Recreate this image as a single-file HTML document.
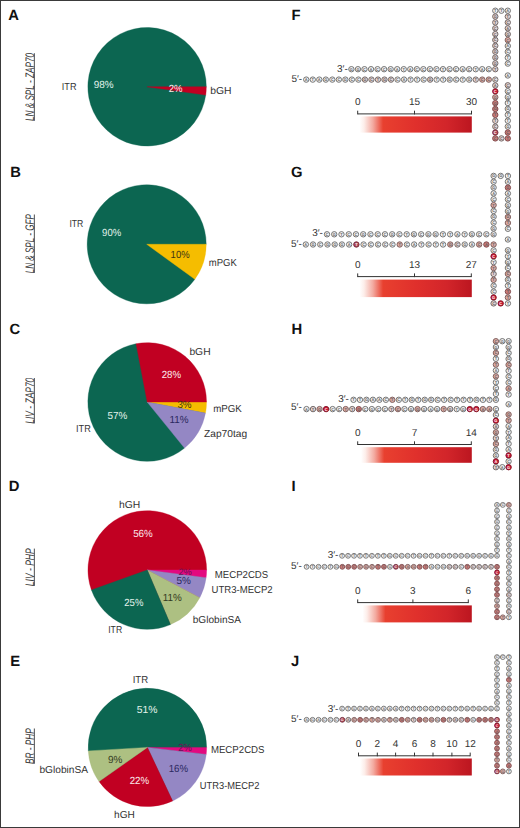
<!DOCTYPE html>
<html><head><meta charset="utf-8"><style>
html,body{margin:0;padding:0;background:#fff;}
body{width:520px;height:828px;overflow:hidden;}
svg{display:block;font-family:"Liberation Sans", sans-serif;text-rendering:geometricPrecision;}
</style></head><body>
<svg width="520" height="828" viewBox="0 0 520 828">
<defs><linearGradient id="grad" x1="0" y1="0" x2="1" y2="0">
<stop offset="0" stop-color="#ffffff"/><stop offset="0.04" stop-color="#fdeeea"/><stop offset="0.12" stop-color="#f3aaa0"/><stop offset="0.21" stop-color="#e8402f"/>
<stop offset="0.5" stop-color="#e0302c"/><stop offset="0.78" stop-color="#d2252a"/><stop offset="1" stop-color="#bc1620"/></linearGradient></defs>
<rect x="0" y="0" width="520" height="828" fill="#fff"/>
<circle cx="147.1" cy="86.8" r="58.6" fill="#0c6651"/>
<path d="M147.10,86.80 L205.72,95.04 A59.199999999999996,59.199999999999996 0 1 1 206.30,86.80 Z" fill="#0c6651" stroke="#0c6651" stroke-width="0.4" stroke-linejoin="round"/>
<path d="M147.10,86.80 L206.30,86.80 A59.199999999999996,59.199999999999996 0 0 1 205.72,95.04 Z" fill="#c10022" stroke="#c10022" stroke-width="0.4" stroke-linejoin="round"/>
<circle cx="146.7" cy="244.3" r="58.900000000000006" fill="#0c6651"/>
<path d="M146.70,244.30 L194.84,279.27 A59.5,59.5 0 1 1 206.20,244.30 Z" fill="#0c6651" stroke="#0c6651" stroke-width="0.4" stroke-linejoin="round"/>
<path d="M146.70,244.30 L206.20,244.30 A59.5,59.5 0 0 1 194.84,279.27 Z" fill="#f5bd00" stroke="#f5bd00" stroke-width="0.4" stroke-linejoin="round"/>
<circle cx="147.2" cy="402" r="58.7" fill="#0c6651"/>
<path d="M147.20,402.00 L184.52,448.08 A59.3,59.3 0 1 1 136.09,343.75 Z" fill="#0c6651" stroke="#0c6651" stroke-width="0.4" stroke-linejoin="round"/>
<path d="M147.20,402.00 L206.50,402.00 A59.3,59.3 0 0 1 205.45,413.11 Z" fill="#f5bd00" stroke="#f5bd00" stroke-width="0.4" stroke-linejoin="round"/>
<path d="M147.20,402.00 L205.45,413.11 A59.3,59.3 0 0 1 184.52,448.08 Z" fill="#9487c4" stroke="#9487c4" stroke-width="0.4" stroke-linejoin="round"/>
<path d="M147.20,402.00 L136.09,343.75 A59.3,59.3 0 0 1 206.50,402.00 Z" fill="#c10022" stroke="#c10022" stroke-width="0.4" stroke-linejoin="round"/>
<circle cx="147.3" cy="570" r="58.7" fill="#c10022"/>
<path d="M147.30,570.00 L91.47,589.99 A59.3,59.3 0 1 1 206.60,570.00 Z" fill="#c10022" stroke="#c10022" stroke-width="0.4" stroke-linejoin="round"/>
<path d="M147.30,570.00 L206.60,570.00 A59.3,59.3 0 0 1 206.09,577.74 Z" fill="#e3097f" stroke="#e3097f" stroke-width="0.4" stroke-linejoin="round"/>
<path d="M147.30,570.00 L206.09,577.74 A59.3,59.3 0 0 1 199.76,597.66 Z" fill="#9487c4" stroke="#9487c4" stroke-width="0.4" stroke-linejoin="round"/>
<path d="M147.30,570.00 L199.76,597.66 A59.3,59.3 0 0 1 170.47,624.59 Z" fill="#adc082" stroke="#adc082" stroke-width="0.4" stroke-linejoin="round"/>
<path d="M147.30,570.00 L170.47,624.59 A59.3,59.3 0 0 1 91.47,589.99 Z" fill="#0c6651" stroke="#0c6651" stroke-width="0.4" stroke-linejoin="round"/>
<circle cx="147.4" cy="747.4" r="58.6" fill="#0c6651"/>
<path d="M147.40,747.40 L88.30,750.91 A59.199999999999996,59.199999999999996 0 1 1 206.60,747.40 Z" fill="#0c6651" stroke="#0c6651" stroke-width="0.4" stroke-linejoin="round"/>
<path d="M147.40,747.40 L206.60,747.40 A59.199999999999996,59.199999999999996 0 0 1 206.18,754.41 Z" fill="#e3097f" stroke="#e3097f" stroke-width="0.4" stroke-linejoin="round"/>
<path d="M147.40,747.40 L206.18,754.41 A59.199999999999996,59.199999999999996 0 0 1 172.61,800.97 Z" fill="#9487c4" stroke="#9487c4" stroke-width="0.4" stroke-linejoin="round"/>
<path d="M147.40,747.40 L172.61,800.97 A59.199999999999996,59.199999999999996 0 0 1 99.03,781.52 Z" fill="#c10022" stroke="#c10022" stroke-width="0.4" stroke-linejoin="round"/>
<path d="M147.40,747.40 L99.03,781.52 A59.199999999999996,59.199999999999996 0 0 1 88.30,750.91 Z" fill="#adc082" stroke="#adc082" stroke-width="0.4" stroke-linejoin="round"/>
<text x="8.3" y="19.6" font-size="14.8" font-weight="bold" fill="#111">A</text>
<text x="10.3" y="177.0" font-size="14.8" font-weight="bold" fill="#111">B</text>
<text x="9.4" y="334.3" font-size="14.8" font-weight="bold" fill="#111">C</text>
<text x="8.8" y="491.0" font-size="14.8" font-weight="bold" fill="#111">D</text>
<text x="10.3" y="666.0" font-size="14.8" font-weight="bold" fill="#111">E</text>
<text x="291.4" y="19.6" font-size="14.8" font-weight="bold" fill="#111">F</text>
<text x="291.1" y="177.2" font-size="14.8" font-weight="bold" fill="#111">G</text>
<text x="291.4" y="334.0" font-size="14.8" font-weight="bold" fill="#111">H</text>
<text x="291.6" y="491.0" font-size="14.8" font-weight="bold" fill="#111">I</text>
<text x="290.9" y="666.1" font-size="14.8" font-weight="bold" fill="#111">J</text>
<text x="61.80" y="89.50" font-size="10.10" fill="#333333" textLength="14.65" lengthAdjust="spacingAndGlyphs">ITR</text>
<text x="93.80" y="87.60" font-size="10.30" fill="#e4f3ec" textLength="19.92" lengthAdjust="spacingAndGlyphs">98%</text>
<text x="168.76" y="92.18" font-size="10.30" fill="#fbe9ec" textLength="13.89" lengthAdjust="spacingAndGlyphs">2%</text>
<text x="210.20" y="94.20" font-size="10.10" fill="#333333" textLength="21.30" lengthAdjust="spacingAndGlyphs">bGH</text>
<text x="69.40" y="227.30" font-size="10.10" fill="#333333" textLength="13.94" lengthAdjust="spacingAndGlyphs">ITR</text>
<text x="102.10" y="236.10" font-size="10.30" fill="#e4f3ec" textLength="19.07" lengthAdjust="spacingAndGlyphs">90%</text>
<text x="170.60" y="257.60" font-size="10.30" fill="#3d3512" textLength="19.04" lengthAdjust="spacingAndGlyphs">10%</text>
<text x="208.80" y="266.20" font-size="10.10" fill="#333333" textLength="27.95" lengthAdjust="spacingAndGlyphs">mPGK</text>
<text x="189.40" y="354.60" font-size="10.10" fill="#333333" textLength="21.20" lengthAdjust="spacingAndGlyphs">bGH</text>
<text x="161.70" y="378.20" font-size="10.30" fill="#fbe9ec" textLength="19.44" lengthAdjust="spacingAndGlyphs">28%</text>
<text x="177.40" y="408.28" font-size="10.30" fill="#3d3512" textLength="14.20" lengthAdjust="spacingAndGlyphs">3%</text>
<text x="213.20" y="411.50" font-size="10.10" fill="#333333" textLength="28.67" lengthAdjust="spacingAndGlyphs">mPGK</text>
<text x="169.50" y="423.40" font-size="10.30" fill="#2b2860" textLength="19.15" lengthAdjust="spacingAndGlyphs">11%</text>
<text x="204.00" y="437.30" font-size="10.10" fill="#333333" textLength="43.15" lengthAdjust="spacingAndGlyphs">Zap70tag</text>
<text x="107.40" y="419.30" font-size="10.30" fill="#e4f3ec" textLength="19.86" lengthAdjust="spacingAndGlyphs">57%</text>
<text x="76.00" y="432.00" font-size="10.10" fill="#333333" textLength="14.74" lengthAdjust="spacingAndGlyphs">ITR</text>
<text x="119.00" y="507.60" font-size="10.10" fill="#333333" textLength="21.27" lengthAdjust="spacingAndGlyphs">hGH</text>
<text x="133.20" y="537.00" font-size="10.30" fill="#fbe9ec" textLength="19.56" lengthAdjust="spacingAndGlyphs">56%</text>
<text x="178.40" y="574.60" font-size="9.20" fill="#6b1456" textLength="13.40" lengthAdjust="spacingAndGlyphs">2%</text>
<text x="214.86" y="577.64" font-size="10.10" fill="#333333" textLength="53.34" lengthAdjust="spacingAndGlyphs">MECP2CDS</text>
<text x="176.50" y="584.00" font-size="10.30" fill="#2b2860" textLength="14.44" lengthAdjust="spacingAndGlyphs">5%</text>
<text x="211.50" y="593.10" font-size="10.10" fill="#333333" textLength="61.13" lengthAdjust="spacingAndGlyphs">UTR3-MECP2</text>
<text x="162.80" y="601.00" font-size="10.30" fill="#333a1e" textLength="19.06" lengthAdjust="spacingAndGlyphs">11%</text>
<text x="124.30" y="606.20" font-size="10.30" fill="#e4f3ec" textLength="19.12" lengthAdjust="spacingAndGlyphs">25%</text>
<text x="192.76" y="622.64" font-size="10.10" fill="#333333" textLength="48.25" lengthAdjust="spacingAndGlyphs">bGlobinSA</text>
<text x="108.20" y="633.40" font-size="10.10" fill="#333333" textLength="13.94" lengthAdjust="spacingAndGlyphs">ITR</text>
<text x="132.70" y="682.50" font-size="10.10" fill="#333333" textLength="15.49" lengthAdjust="spacingAndGlyphs">ITR</text>
<text x="136.70" y="713.00" font-size="10.30" fill="#e4f3ec" textLength="20.74" lengthAdjust="spacingAndGlyphs">51%</text>
<text x="178.30" y="751.20" font-size="10.30" fill="#6b1456" textLength="13.53" lengthAdjust="spacingAndGlyphs">2%</text>
<text x="210.90" y="753.10" font-size="10.10" fill="#333333" textLength="53.63" lengthAdjust="spacingAndGlyphs">MECP2CDS</text>
<text x="107.90" y="762.70" font-size="10.30" fill="#333a1e" textLength="14.46" lengthAdjust="spacingAndGlyphs">9%</text>
<text x="168.70" y="771.50" font-size="10.30" fill="#2b2860" textLength="19.43" lengthAdjust="spacingAndGlyphs">16%</text>
<text x="39.40" y="772.64" font-size="10.10" fill="#333333" textLength="48.68" lengthAdjust="spacingAndGlyphs">bGlobinSA</text>
<text x="129.66" y="784.36" font-size="10.30" fill="#fbe9ec" textLength="19.50" lengthAdjust="spacingAndGlyphs">22%</text>
<text x="199.86" y="788.64" font-size="10.10" fill="#333333" textLength="59.50" lengthAdjust="spacingAndGlyphs">UTR3-MECP2</text>
<text x="114.12" y="817.54" font-size="10.10" fill="#333333" textLength="20.75" lengthAdjust="spacingAndGlyphs">hGH</text>
<text transform="translate(33.5,121.1) rotate(-90)" font-size="12.4" font-style="italic" fill="#3a3a3a" textLength="68.2" lengthAdjust="spacingAndGlyphs">LN &amp; SPL - ZAP70</text>
<rect x="33.85" y="53.2" width="0.9" height="67.6" fill="#3a3a3a"/>
<text transform="translate(33.5,273.2) rotate(-90)" font-size="12.4" font-style="italic" fill="#3a3a3a" textLength="59.0" lengthAdjust="spacingAndGlyphs">LN &amp; SPL - GFP</text>
<rect x="33.85" y="214.5" width="0.9" height="58.4" fill="#3a3a3a"/>
<text transform="translate(33.5,423.7) rotate(-90)" font-size="12.4" font-style="italic" fill="#3a3a3a" textLength="46.0" lengthAdjust="spacingAndGlyphs">LIV - ZAP70</text>
<rect x="33.85" y="378.0" width="0.9" height="45.4" fill="#3a3a3a"/>
<text transform="translate(33.5,586.2) rotate(-90)" font-size="12.4" font-style="italic" fill="#3a3a3a" textLength="37.9" lengthAdjust="spacingAndGlyphs">LIV - PHP</text>
<rect x="33.85" y="548.6" width="0.9" height="37.3" fill="#3a3a3a"/>
<text transform="translate(33.5,764.0) rotate(-90)" font-size="12.4" font-style="italic" fill="#3a3a3a" textLength="35.8" lengthAdjust="spacingAndGlyphs">BR - PHP</text>
<rect x="33.85" y="728.5" width="0.9" height="35.2" fill="#3a3a3a"/>
<circle cx="351.40" cy="69.20" r="2.7" fill="#f2f2f2" stroke="#6e6e6e" stroke-width="0.95"/>
<text x="351.40" y="70.64" font-size="4.0" font-weight="bold" fill="#5c5c5c" text-anchor="middle">G</text>
<circle cx="357.94" cy="69.20" r="2.7" fill="#f2f2f2" stroke="#6e6e6e" stroke-width="0.95"/>
<text x="357.94" y="70.64" font-size="4.0" font-weight="bold" fill="#5c5c5c" text-anchor="middle">G</text>
<circle cx="364.48" cy="69.20" r="2.7" fill="#f2f2f2" stroke="#6e6e6e" stroke-width="0.95"/>
<text x="364.48" y="70.64" font-size="4.0" font-weight="bold" fill="#5c5c5c" text-anchor="middle">C</text>
<circle cx="371.02" cy="69.20" r="2.7" fill="#f2f2f2" stroke="#6e6e6e" stroke-width="0.95"/>
<text x="371.02" y="70.64" font-size="4.0" font-weight="bold" fill="#5c5c5c" text-anchor="middle">A</text>
<circle cx="377.56" cy="69.20" r="2.7" fill="#f2f2f2" stroke="#6e6e6e" stroke-width="0.95"/>
<text x="377.56" y="70.64" font-size="4.0" font-weight="bold" fill="#5c5c5c" text-anchor="middle">C</text>
<circle cx="384.10" cy="69.20" r="2.7" fill="#f2f2f2" stroke="#6e6e6e" stroke-width="0.95"/>
<text x="384.10" y="70.64" font-size="4.0" font-weight="bold" fill="#5c5c5c" text-anchor="middle">C</text>
<circle cx="390.65" cy="69.20" r="2.7" fill="#f2f2f2" stroke="#6e6e6e" stroke-width="0.95"/>
<text x="390.65" y="70.64" font-size="4.0" font-weight="bold" fill="#5c5c5c" text-anchor="middle">G</text>
<circle cx="397.19" cy="69.20" r="2.7" fill="#f2f2f2" stroke="#6e6e6e" stroke-width="0.95"/>
<text x="397.19" y="70.64" font-size="4.0" font-weight="bold" fill="#5c5c5c" text-anchor="middle">A</text>
<circle cx="403.73" cy="69.20" r="2.7" fill="#f2f2f2" stroke="#6e6e6e" stroke-width="0.95"/>
<text x="403.73" y="70.64" font-size="4.0" font-weight="bold" fill="#5c5c5c" text-anchor="middle">T</text>
<circle cx="410.27" cy="69.20" r="2.7" fill="#f2f2f2" stroke="#6e6e6e" stroke-width="0.95"/>
<text x="410.27" y="70.64" font-size="4.0" font-weight="bold" fill="#5c5c5c" text-anchor="middle">A</text>
<circle cx="416.81" cy="69.20" r="2.7" fill="#f2f2f2" stroke="#6e6e6e" stroke-width="0.95"/>
<text x="416.81" y="70.64" font-size="4.0" font-weight="bold" fill="#5c5c5c" text-anchor="middle">C</text>
<circle cx="423.35" cy="69.20" r="2.7" fill="#f2f2f2" stroke="#6e6e6e" stroke-width="0.95"/>
<text x="423.35" y="70.64" font-size="4.0" font-weight="bold" fill="#5c5c5c" text-anchor="middle">C</text>
<circle cx="429.89" cy="69.20" r="2.7" fill="#f2f2f2" stroke="#6e6e6e" stroke-width="0.95"/>
<text x="429.89" y="70.64" font-size="4.0" font-weight="bold" fill="#5c5c5c" text-anchor="middle">C</text>
<circle cx="436.43" cy="69.20" r="2.7" fill="#f2f2f2" stroke="#6e6e6e" stroke-width="0.95"/>
<text x="436.43" y="70.64" font-size="4.0" font-weight="bold" fill="#5c5c5c" text-anchor="middle">C</text>
<circle cx="442.97" cy="69.20" r="2.7" fill="#f2f2f2" stroke="#6e6e6e" stroke-width="0.95"/>
<text x="442.97" y="70.64" font-size="4.0" font-weight="bold" fill="#5c5c5c" text-anchor="middle">T</text>
<circle cx="449.51" cy="69.20" r="2.7" fill="#f2f2f2" stroke="#6e6e6e" stroke-width="0.95"/>
<text x="449.51" y="70.64" font-size="4.0" font-weight="bold" fill="#5c5c5c" text-anchor="middle">C</text>
<circle cx="456.05" cy="69.20" r="2.7" fill="#f2f2f2" stroke="#6e6e6e" stroke-width="0.95"/>
<text x="456.05" y="70.64" font-size="4.0" font-weight="bold" fill="#5c5c5c" text-anchor="middle">C</text>
<circle cx="462.60" cy="69.20" r="2.7" fill="#f2f2f2" stroke="#6e6e6e" stroke-width="0.95"/>
<text x="462.60" y="70.64" font-size="4.0" font-weight="bold" fill="#5c5c5c" text-anchor="middle">A</text>
<circle cx="469.14" cy="69.20" r="2.7" fill="#f2f2f2" stroke="#6e6e6e" stroke-width="0.95"/>
<text x="469.14" y="70.64" font-size="4.0" font-weight="bold" fill="#5c5c5c" text-anchor="middle">C</text>
<circle cx="475.68" cy="69.20" r="2.7" fill="#f2f2f2" stroke="#6e6e6e" stroke-width="0.95"/>
<text x="475.68" y="70.64" font-size="4.0" font-weight="bold" fill="#5c5c5c" text-anchor="middle">T</text>
<circle cx="482.22" cy="69.20" r="2.7" fill="#f2f2f2" stroke="#6e6e6e" stroke-width="0.95"/>
<text x="482.22" y="70.64" font-size="4.0" font-weight="bold" fill="#5c5c5c" text-anchor="middle">A</text>
<circle cx="488.76" cy="69.20" r="2.7" fill="#f2f2f2" stroke="#6e6e6e" stroke-width="0.95"/>
<text x="488.76" y="70.64" font-size="4.0" font-weight="bold" fill="#5c5c5c" text-anchor="middle">C</text>
<circle cx="306.25" cy="79.60" r="2.7" fill="#f2f2f2" stroke="#6e6e6e" stroke-width="0.95"/>
<text x="306.25" y="81.04" font-size="4.0" font-weight="bold" fill="#5c5c5c" text-anchor="middle">A</text>
<circle cx="312.77" cy="79.60" r="2.7" fill="#f2f2f2" stroke="#6e6e6e" stroke-width="0.95"/>
<text x="312.77" y="81.04" font-size="4.0" font-weight="bold" fill="#5c5c5c" text-anchor="middle">T</text>
<circle cx="319.29" cy="79.60" r="2.7" fill="#f2f2f2" stroke="#6e6e6e" stroke-width="0.95"/>
<text x="319.29" y="81.04" font-size="4.0" font-weight="bold" fill="#5c5c5c" text-anchor="middle">A</text>
<circle cx="325.81" cy="79.60" r="2.7" fill="#f2f2f2" stroke="#6e6e6e" stroke-width="0.95"/>
<text x="325.81" y="81.04" font-size="4.0" font-weight="bold" fill="#5c5c5c" text-anchor="middle">G</text>
<circle cx="332.33" cy="79.60" r="2.7" fill="#f2f2f2" stroke="#6e6e6e" stroke-width="0.95"/>
<text x="332.33" y="81.04" font-size="4.0" font-weight="bold" fill="#5c5c5c" text-anchor="middle">C</text>
<circle cx="338.84" cy="79.60" r="2.7" fill="#f2f2f2" stroke="#6e6e6e" stroke-width="0.95"/>
<text x="338.84" y="81.04" font-size="4.0" font-weight="bold" fill="#5c5c5c" text-anchor="middle">C</text>
<circle cx="345.36" cy="79.60" r="2.7" fill="#f2f2f2" stroke="#6e6e6e" stroke-width="0.95"/>
<text x="345.36" y="81.04" font-size="4.0" font-weight="bold" fill="#5c5c5c" text-anchor="middle">G</text>
<circle cx="351.88" cy="79.60" r="2.7" fill="#f2f2f2" stroke="#6e6e6e" stroke-width="0.95"/>
<text x="351.88" y="81.04" font-size="4.0" font-weight="bold" fill="#5c5c5c" text-anchor="middle">C</text>
<circle cx="358.40" cy="79.60" r="2.7" fill="#f2f2f2" stroke="#6e6e6e" stroke-width="0.95"/>
<text x="358.40" y="81.04" font-size="4.0" font-weight="bold" fill="#5c5c5c" text-anchor="middle">C</text>
<circle cx="364.92" cy="79.60" r="2.7" fill="#e6d6d4" stroke="#6c6262" stroke-width="0.95"/>
<text x="364.92" y="81.04" font-size="4.0" font-weight="bold" fill="#5c5c5c" text-anchor="middle">G</text>
<circle cx="371.44" cy="79.60" r="2.7" fill="#e6d6d4" stroke="#6c6262" stroke-width="0.95"/>
<text x="371.44" y="81.04" font-size="4.0" font-weight="bold" fill="#5c5c5c" text-anchor="middle">C</text>
<circle cx="377.96" cy="79.60" r="2.7" fill="#e6d6d4" stroke="#6c6262" stroke-width="0.95"/>
<text x="377.96" y="81.04" font-size="4.0" font-weight="bold" fill="#5c5c5c" text-anchor="middle">T</text>
<circle cx="384.48" cy="79.60" r="2.7" fill="#e6d6d4" stroke="#6c6262" stroke-width="0.95"/>
<text x="384.48" y="81.04" font-size="4.0" font-weight="bold" fill="#5c5c5c" text-anchor="middle">G</text>
<circle cx="391.00" cy="79.60" r="2.7" fill="#e6d6d4" stroke="#6c6262" stroke-width="0.95"/>
<text x="391.00" y="81.04" font-size="4.0" font-weight="bold" fill="#5c5c5c" text-anchor="middle">C</text>
<circle cx="397.52" cy="79.60" r="2.7" fill="#f2f2f2" stroke="#6e6e6e" stroke-width="0.95"/>
<text x="397.52" y="81.04" font-size="4.0" font-weight="bold" fill="#5c5c5c" text-anchor="middle">C</text>
<circle cx="404.03" cy="79.60" r="2.7" fill="#f2f2f2" stroke="#6e6e6e" stroke-width="0.95"/>
<text x="404.03" y="81.04" font-size="4.0" font-weight="bold" fill="#5c5c5c" text-anchor="middle">A</text>
<circle cx="410.55" cy="79.60" r="2.7" fill="#f2f2f2" stroke="#6e6e6e" stroke-width="0.95"/>
<text x="410.55" y="81.04" font-size="4.0" font-weight="bold" fill="#5c5c5c" text-anchor="middle">T</text>
<circle cx="417.07" cy="79.60" r="2.7" fill="#f2f2f2" stroke="#6e6e6e" stroke-width="0.95"/>
<text x="417.07" y="81.04" font-size="4.0" font-weight="bold" fill="#5c5c5c" text-anchor="middle">T</text>
<circle cx="423.59" cy="79.60" r="2.7" fill="#f2f2f2" stroke="#6e6e6e" stroke-width="0.95"/>
<text x="423.59" y="81.04" font-size="4.0" font-weight="bold" fill="#5c5c5c" text-anchor="middle">C</text>
<circle cx="430.11" cy="79.60" r="2.7" fill="#e6d6d4" stroke="#6c6262" stroke-width="0.95"/>
<text x="430.11" y="81.04" font-size="4.0" font-weight="bold" fill="#5c5c5c" text-anchor="middle">G</text>
<circle cx="436.63" cy="79.60" r="2.7" fill="#f2f2f2" stroke="#6e6e6e" stroke-width="0.95"/>
<text x="436.63" y="81.04" font-size="4.0" font-weight="bold" fill="#5c5c5c" text-anchor="middle">T</text>
<circle cx="443.15" cy="79.60" r="2.7" fill="#f2f2f2" stroke="#6e6e6e" stroke-width="0.95"/>
<text x="443.15" y="81.04" font-size="4.0" font-weight="bold" fill="#5c5c5c" text-anchor="middle">T</text>
<circle cx="449.67" cy="79.60" r="2.7" fill="#f2f2f2" stroke="#6e6e6e" stroke-width="0.95"/>
<text x="449.67" y="81.04" font-size="4.0" font-weight="bold" fill="#5c5c5c" text-anchor="middle">G</text>
<circle cx="456.19" cy="79.60" r="2.7" fill="#f2f2f2" stroke="#6e6e6e" stroke-width="0.95"/>
<text x="456.19" y="81.04" font-size="4.0" font-weight="bold" fill="#5c5c5c" text-anchor="middle">C</text>
<circle cx="462.71" cy="79.60" r="2.7" fill="#f2f2f2" stroke="#6e6e6e" stroke-width="0.95"/>
<text x="462.71" y="81.04" font-size="4.0" font-weight="bold" fill="#5c5c5c" text-anchor="middle">T</text>
<circle cx="469.22" cy="79.60" r="2.7" fill="#f2f2f2" stroke="#6e6e6e" stroke-width="0.95"/>
<text x="469.22" y="81.04" font-size="4.0" font-weight="bold" fill="#5c5c5c" text-anchor="middle">G</text>
<circle cx="475.74" cy="79.60" r="2.7" fill="#e6d6d4" stroke="#6c6262" stroke-width="0.95"/>
<text x="475.74" y="81.04" font-size="4.0" font-weight="bold" fill="#5c5c5c" text-anchor="middle">T</text>
<circle cx="482.26" cy="79.60" r="2.7" fill="#dcaca6" stroke="#7a5c5a" stroke-width="0.95"/>
<text x="482.26" y="81.04" font-size="4.0" font-weight="bold" fill="#5c5c5c" text-anchor="middle">C</text>
<circle cx="488.78" cy="79.60" r="2.7" fill="#dcaca6" stroke="#7a5c5a" stroke-width="0.95"/>
<text x="488.78" y="81.04" font-size="4.0" font-weight="bold" fill="#5c5c5c" text-anchor="middle">C</text>
<circle cx="495.30" cy="10.70" r="2.7" fill="#f2f2f2" stroke="#6e6e6e" stroke-width="0.95"/>
<text x="495.30" y="12.14" font-size="4.0" font-weight="bold" fill="#5c5c5c" text-anchor="middle">T</text>
<circle cx="495.30" cy="16.55" r="2.7" fill="#e6d6d4" stroke="#6c6262" stroke-width="0.95"/>
<text x="495.30" y="17.99" font-size="4.0" font-weight="bold" fill="#5c5c5c" text-anchor="middle">G</text>
<circle cx="495.30" cy="22.40" r="2.7" fill="#e6d6d4" stroke="#6c6262" stroke-width="0.95"/>
<text x="495.30" y="23.84" font-size="4.0" font-weight="bold" fill="#5c5c5c" text-anchor="middle">T</text>
<circle cx="495.30" cy="28.25" r="2.7" fill="#e6d6d4" stroke="#6c6262" stroke-width="0.95"/>
<text x="495.30" y="29.69" font-size="4.0" font-weight="bold" fill="#5c5c5c" text-anchor="middle">C</text>
<circle cx="495.30" cy="34.10" r="2.7" fill="#e6d6d4" stroke="#6c6262" stroke-width="0.95"/>
<text x="495.30" y="35.54" font-size="4.0" font-weight="bold" fill="#5c5c5c" text-anchor="middle">C</text>
<circle cx="495.30" cy="39.95" r="2.7" fill="#e6d6d4" stroke="#6c6262" stroke-width="0.95"/>
<text x="495.30" y="41.39" font-size="4.0" font-weight="bold" fill="#5c5c5c" text-anchor="middle">C</text>
<circle cx="495.30" cy="45.80" r="2.7" fill="#e6d6d4" stroke="#6c6262" stroke-width="0.95"/>
<text x="495.30" y="47.24" font-size="4.0" font-weight="bold" fill="#5c5c5c" text-anchor="middle">C</text>
<circle cx="495.30" cy="51.65" r="2.7" fill="#e6d6d4" stroke="#6c6262" stroke-width="0.95"/>
<text x="495.30" y="53.09" font-size="4.0" font-weight="bold" fill="#5c5c5c" text-anchor="middle">G</text>
<circle cx="495.30" cy="57.50" r="2.7" fill="#e6d6d4" stroke="#6c6262" stroke-width="0.95"/>
<text x="495.30" y="58.94" font-size="4.0" font-weight="bold" fill="#5c5c5c" text-anchor="middle">G</text>
<circle cx="495.30" cy="63.35" r="2.7" fill="#e6d6d4" stroke="#6c6262" stroke-width="0.95"/>
<text x="495.30" y="64.79" font-size="4.0" font-weight="bold" fill="#5c5c5c" text-anchor="middle">G</text>
<circle cx="495.30" cy="69.20" r="2.7" fill="#e6d6d4" stroke="#6c6262" stroke-width="0.95"/>
<text x="495.30" y="70.64" font-size="4.0" font-weight="bold" fill="#5c5c5c" text-anchor="middle">T</text>
<circle cx="495.30" cy="79.60" r="2.7" fill="#eae2e0" stroke="#6c6666" stroke-width="0.95"/>
<text x="495.30" y="81.04" font-size="4.0" font-weight="bold" fill="#5c5c5c" text-anchor="middle">C</text>
<circle cx="495.30" cy="85.48" r="2.7" fill="#e6d6d4" stroke="#6c6262" stroke-width="0.95"/>
<text x="495.30" y="86.92" font-size="4.0" font-weight="bold" fill="#5c5c5c" text-anchor="middle">A</text>
<circle cx="495.30" cy="91.36" r="2.7" fill="#cc1834" stroke="#801426" stroke-width="0.95"/>
<text x="495.30" y="92.80" font-size="4.0" font-weight="bold" fill="#ffffff" text-anchor="middle">C</text>
<circle cx="495.30" cy="97.24" r="2.7" fill="#dcaca6" stroke="#7a5c5a" stroke-width="0.95"/>
<text x="495.30" y="98.68" font-size="4.0" font-weight="bold" fill="#5c5c5c" text-anchor="middle">G</text>
<circle cx="495.30" cy="103.12" r="2.7" fill="#cc7c7a" stroke="#7c4a4c" stroke-width="0.95"/>
<text x="495.30" y="104.56" font-size="4.0" font-weight="bold" fill="#5c5c5c" text-anchor="middle">G</text>
<circle cx="495.30" cy="109.00" r="2.7" fill="#cc7c7a" stroke="#7c4a4c" stroke-width="0.95"/>
<text x="495.30" y="110.44" font-size="4.0" font-weight="bold" fill="#5c5c5c" text-anchor="middle">G</text>
<circle cx="495.30" cy="114.88" r="2.7" fill="#cc7c7a" stroke="#7c4a4c" stroke-width="0.95"/>
<text x="495.30" y="116.32" font-size="4.0" font-weight="bold" fill="#5c5c5c" text-anchor="middle">T</text>
<circle cx="495.30" cy="120.76" r="2.7" fill="#e6d6d4" stroke="#6c6262" stroke-width="0.95"/>
<text x="495.30" y="122.20" font-size="4.0" font-weight="bold" fill="#5c5c5c" text-anchor="middle">T</text>
<circle cx="495.30" cy="126.64" r="2.7" fill="#e6d6d4" stroke="#6c6262" stroke-width="0.95"/>
<text x="495.30" y="128.08" font-size="4.0" font-weight="bold" fill="#5c5c5c" text-anchor="middle">C</text>
<circle cx="495.30" cy="132.52" r="2.7" fill="#b4485a" stroke="#702a3a" stroke-width="0.95"/>
<text x="495.30" y="133.96" font-size="4.0" font-weight="bold" fill="#ffffff" text-anchor="middle">C</text>
<circle cx="495.30" cy="138.40" r="2.7" fill="#cc7c7a" stroke="#7c4a4c" stroke-width="0.95"/>
<text x="495.30" y="139.84" font-size="4.0" font-weight="bold" fill="#5c5c5c" text-anchor="middle">C</text>
<circle cx="501.40" cy="10.70" r="2.7" fill="#f2f2f2" stroke="#6e6e6e" stroke-width="0.95"/>
<text x="501.40" y="12.14" font-size="4.0" font-weight="bold" fill="#5c5c5c" text-anchor="middle">T</text>
<circle cx="501.40" cy="138.40" r="2.7" fill="#e6d6d4" stroke="#6c6262" stroke-width="0.95"/>
<text x="501.40" y="139.84" font-size="4.0" font-weight="bold" fill="#5c5c5c" text-anchor="middle">C</text>
<circle cx="507.80" cy="10.70" r="2.7" fill="#f2f2f2" stroke="#6e6e6e" stroke-width="0.95"/>
<text x="507.80" y="12.14" font-size="4.0" font-weight="bold" fill="#5c5c5c" text-anchor="middle">A</text>
<circle cx="507.80" cy="85.30" r="2.7" fill="#e6d6d4" stroke="#6c6262" stroke-width="0.95"/>
<text x="507.80" y="86.74" font-size="4.0" font-weight="bold" fill="#5c5c5c" text-anchor="middle">C</text>
<circle cx="507.80" cy="16.58" r="2.7" fill="#e6d6d4" stroke="#6c6262" stroke-width="0.95"/>
<text x="507.80" y="18.02" font-size="4.0" font-weight="bold" fill="#5c5c5c" text-anchor="middle">T</text>
<circle cx="507.80" cy="91.20" r="2.7" fill="#f2f2f2" stroke="#6e6e6e" stroke-width="0.95"/>
<text x="507.80" y="92.64" font-size="4.0" font-weight="bold" fill="#5c5c5c" text-anchor="middle">C</text>
<circle cx="507.80" cy="22.46" r="2.7" fill="#e6d6d4" stroke="#6c6262" stroke-width="0.95"/>
<text x="507.80" y="23.90" font-size="4.0" font-weight="bold" fill="#5c5c5c" text-anchor="middle">C</text>
<circle cx="507.80" cy="97.10" r="2.7" fill="#f2f2f2" stroke="#6e6e6e" stroke-width="0.95"/>
<text x="507.80" y="98.54" font-size="4.0" font-weight="bold" fill="#5c5c5c" text-anchor="middle">G</text>
<circle cx="507.80" cy="28.33" r="2.7" fill="#e6d6d4" stroke="#6c6262" stroke-width="0.95"/>
<text x="507.80" y="29.77" font-size="4.0" font-weight="bold" fill="#5c5c5c" text-anchor="middle">A</text>
<circle cx="507.80" cy="103.00" r="2.7" fill="#f2f2f2" stroke="#6e6e6e" stroke-width="0.95"/>
<text x="507.80" y="104.44" font-size="4.0" font-weight="bold" fill="#5c5c5c" text-anchor="middle">T</text>
<circle cx="507.80" cy="34.21" r="2.7" fill="#e6d6d4" stroke="#6c6262" stroke-width="0.95"/>
<text x="507.80" y="35.65" font-size="4.0" font-weight="bold" fill="#5c5c5c" text-anchor="middle">G</text>
<circle cx="507.80" cy="108.90" r="2.7" fill="#f2f2f2" stroke="#6e6e6e" stroke-width="0.95"/>
<text x="507.80" y="110.34" font-size="4.0" font-weight="bold" fill="#5c5c5c" text-anchor="middle">G</text>
<circle cx="507.80" cy="40.09" r="2.7" fill="#dcaca6" stroke="#7a5c5a" stroke-width="0.95"/>
<text x="507.80" y="41.53" font-size="4.0" font-weight="bold" fill="#5c5c5c" text-anchor="middle">C</text>
<circle cx="507.80" cy="114.80" r="2.7" fill="#f2f2f2" stroke="#6e6e6e" stroke-width="0.95"/>
<text x="507.80" y="116.24" font-size="4.0" font-weight="bold" fill="#5c5c5c" text-anchor="middle">T</text>
<circle cx="507.80" cy="45.97" r="2.7" fill="#f2f2f2" stroke="#6e6e6e" stroke-width="0.95"/>
<text x="507.80" y="47.41" font-size="4.0" font-weight="bold" fill="#5c5c5c" text-anchor="middle">A</text>
<circle cx="507.80" cy="120.70" r="2.7" fill="#f2f2f2" stroke="#6e6e6e" stroke-width="0.95"/>
<text x="507.80" y="122.14" font-size="4.0" font-weight="bold" fill="#5c5c5c" text-anchor="middle">T</text>
<circle cx="507.80" cy="51.84" r="2.7" fill="#f2f2f2" stroke="#6e6e6e" stroke-width="0.95"/>
<text x="507.80" y="53.28" font-size="4.0" font-weight="bold" fill="#5c5c5c" text-anchor="middle">C</text>
<circle cx="507.80" cy="126.60" r="2.7" fill="#f2f2f2" stroke="#6e6e6e" stroke-width="0.95"/>
<text x="507.80" y="128.04" font-size="4.0" font-weight="bold" fill="#5c5c5c" text-anchor="middle">G</text>
<circle cx="507.80" cy="57.72" r="2.7" fill="#f2f2f2" stroke="#6e6e6e" stroke-width="0.95"/>
<text x="507.80" y="59.16" font-size="4.0" font-weight="bold" fill="#5c5c5c" text-anchor="middle">T</text>
<circle cx="507.80" cy="132.50" r="2.7" fill="#cc7c7a" stroke="#7c4a4c" stroke-width="0.95"/>
<text x="507.80" y="133.94" font-size="4.0" font-weight="bold" fill="#5c5c5c" text-anchor="middle">C</text>
<circle cx="507.80" cy="63.60" r="2.7" fill="#f2f2f2" stroke="#6e6e6e" stroke-width="0.95"/>
<text x="507.80" y="65.04" font-size="4.0" font-weight="bold" fill="#5c5c5c" text-anchor="middle">C</text>
<circle cx="507.80" cy="138.40" r="2.7" fill="#cc7c7a" stroke="#7c4a4c" stroke-width="0.95"/>
<text x="507.80" y="139.84" font-size="4.0" font-weight="bold" fill="#5c5c5c" text-anchor="middle">T</text>
<circle cx="507.80" cy="75.50" r="2.7" fill="#f2f2f2" stroke="#6e6e6e" stroke-width="0.95"/>
<text x="507.80" y="76.94" font-size="4.0" font-weight="bold" fill="#5c5c5c" text-anchor="middle">A</text>
<text x="337.0" y="72.1" font-size="10" fill="#333">3′-</text>
<text x="291.4" y="82.2" font-size="10" fill="#333">5′-</text>
<circle cx="327.00" cy="234.30" r="2.7" fill="#f2f2f2" stroke="#6e6e6e" stroke-width="0.95"/>
<text x="327.00" y="235.74" font-size="4.0" font-weight="bold" fill="#5c5c5c" text-anchor="middle">C</text>
<circle cx="334.24" cy="234.30" r="2.7" fill="#f2f2f2" stroke="#6e6e6e" stroke-width="0.95"/>
<text x="334.24" y="235.74" font-size="4.0" font-weight="bold" fill="#5c5c5c" text-anchor="middle">G</text>
<circle cx="341.49" cy="234.30" r="2.7" fill="#f2f2f2" stroke="#6e6e6e" stroke-width="0.95"/>
<text x="341.49" y="235.74" font-size="4.0" font-weight="bold" fill="#5c5c5c" text-anchor="middle">T</text>
<circle cx="348.73" cy="234.30" r="2.7" fill="#f2f2f2" stroke="#6e6e6e" stroke-width="0.95"/>
<text x="348.73" y="235.74" font-size="4.0" font-weight="bold" fill="#5c5c5c" text-anchor="middle">C</text>
<circle cx="355.97" cy="234.30" r="2.7" fill="#f2f2f2" stroke="#6e6e6e" stroke-width="0.95"/>
<text x="355.97" y="235.74" font-size="4.0" font-weight="bold" fill="#5c5c5c" text-anchor="middle">C</text>
<circle cx="363.22" cy="234.30" r="2.7" fill="#f2f2f2" stroke="#6e6e6e" stroke-width="0.95"/>
<text x="363.22" y="235.74" font-size="4.0" font-weight="bold" fill="#5c5c5c" text-anchor="middle">G</text>
<circle cx="370.46" cy="234.30" r="2.7" fill="#f2f2f2" stroke="#6e6e6e" stroke-width="0.95"/>
<text x="370.46" y="235.74" font-size="4.0" font-weight="bold" fill="#5c5c5c" text-anchor="middle">C</text>
<circle cx="377.70" cy="234.30" r="2.7" fill="#f2f2f2" stroke="#6e6e6e" stroke-width="0.95"/>
<text x="377.70" y="235.74" font-size="4.0" font-weight="bold" fill="#5c5c5c" text-anchor="middle">C</text>
<circle cx="384.95" cy="234.30" r="2.7" fill="#f2f2f2" stroke="#6e6e6e" stroke-width="0.95"/>
<text x="384.95" y="235.74" font-size="4.0" font-weight="bold" fill="#5c5c5c" text-anchor="middle">C</text>
<circle cx="392.19" cy="234.30" r="2.7" fill="#f2f2f2" stroke="#6e6e6e" stroke-width="0.95"/>
<text x="392.19" y="235.74" font-size="4.0" font-weight="bold" fill="#5c5c5c" text-anchor="middle">G</text>
<circle cx="399.43" cy="234.30" r="2.7" fill="#f2f2f2" stroke="#6e6e6e" stroke-width="0.95"/>
<text x="399.43" y="235.74" font-size="4.0" font-weight="bold" fill="#5c5c5c" text-anchor="middle">C</text>
<circle cx="406.68" cy="234.30" r="2.7" fill="#f2f2f2" stroke="#6e6e6e" stroke-width="0.95"/>
<text x="406.68" y="235.74" font-size="4.0" font-weight="bold" fill="#5c5c5c" text-anchor="middle">T</text>
<circle cx="413.92" cy="234.30" r="2.7" fill="#f2f2f2" stroke="#6e6e6e" stroke-width="0.95"/>
<text x="413.92" y="235.74" font-size="4.0" font-weight="bold" fill="#5c5c5c" text-anchor="middle">G</text>
<circle cx="421.17" cy="234.30" r="2.7" fill="#f2f2f2" stroke="#6e6e6e" stroke-width="0.95"/>
<text x="421.17" y="235.74" font-size="4.0" font-weight="bold" fill="#5c5c5c" text-anchor="middle">C</text>
<circle cx="428.41" cy="234.30" r="2.7" fill="#f2f2f2" stroke="#6e6e6e" stroke-width="0.95"/>
<text x="428.41" y="235.74" font-size="4.0" font-weight="bold" fill="#5c5c5c" text-anchor="middle">G</text>
<circle cx="435.65" cy="234.30" r="2.7" fill="#f2f2f2" stroke="#6e6e6e" stroke-width="0.95"/>
<text x="435.65" y="235.74" font-size="4.0" font-weight="bold" fill="#5c5c5c" text-anchor="middle">G</text>
<circle cx="442.90" cy="234.30" r="2.7" fill="#f2f2f2" stroke="#6e6e6e" stroke-width="0.95"/>
<text x="442.90" y="235.74" font-size="4.0" font-weight="bold" fill="#5c5c5c" text-anchor="middle">T</text>
<circle cx="450.14" cy="234.30" r="2.7" fill="#f2f2f2" stroke="#6e6e6e" stroke-width="0.95"/>
<text x="450.14" y="235.74" font-size="4.0" font-weight="bold" fill="#5c5c5c" text-anchor="middle">T</text>
<circle cx="457.38" cy="234.30" r="2.7" fill="#f2f2f2" stroke="#6e6e6e" stroke-width="0.95"/>
<text x="457.38" y="235.74" font-size="4.0" font-weight="bold" fill="#5c5c5c" text-anchor="middle">A</text>
<circle cx="464.63" cy="234.30" r="2.7" fill="#f2f2f2" stroke="#6e6e6e" stroke-width="0.95"/>
<text x="464.63" y="235.74" font-size="4.0" font-weight="bold" fill="#5c5c5c" text-anchor="middle">T</text>
<circle cx="471.87" cy="234.30" r="2.7" fill="#f2f2f2" stroke="#6e6e6e" stroke-width="0.95"/>
<text x="471.87" y="235.74" font-size="4.0" font-weight="bold" fill="#5c5c5c" text-anchor="middle">G</text>
<circle cx="479.11" cy="234.30" r="2.7" fill="#f2f2f2" stroke="#6e6e6e" stroke-width="0.95"/>
<text x="479.11" y="235.74" font-size="4.0" font-weight="bold" fill="#5c5c5c" text-anchor="middle">C</text>
<circle cx="486.36" cy="234.30" r="2.7" fill="#f2f2f2" stroke="#6e6e6e" stroke-width="0.95"/>
<text x="486.36" y="235.74" font-size="4.0" font-weight="bold" fill="#5c5c5c" text-anchor="middle">C</text>
<circle cx="305.80" cy="244.50" r="2.7" fill="#f2f2f2" stroke="#6e6e6e" stroke-width="0.95"/>
<text x="305.80" y="245.94" font-size="4.0" font-weight="bold" fill="#5c5c5c" text-anchor="middle">A</text>
<circle cx="313.02" cy="244.50" r="2.7" fill="#f2f2f2" stroke="#6e6e6e" stroke-width="0.95"/>
<text x="313.02" y="245.94" font-size="4.0" font-weight="bold" fill="#5c5c5c" text-anchor="middle">G</text>
<circle cx="320.25" cy="244.50" r="2.7" fill="#f2f2f2" stroke="#6e6e6e" stroke-width="0.95"/>
<text x="320.25" y="245.94" font-size="4.0" font-weight="bold" fill="#5c5c5c" text-anchor="middle">C</text>
<circle cx="327.47" cy="244.50" r="2.7" fill="#f2f2f2" stroke="#6e6e6e" stroke-width="0.95"/>
<text x="327.47" y="245.94" font-size="4.0" font-weight="bold" fill="#5c5c5c" text-anchor="middle">G</text>
<circle cx="334.69" cy="244.50" r="2.7" fill="#f2f2f2" stroke="#6e6e6e" stroke-width="0.95"/>
<text x="334.69" y="245.94" font-size="4.0" font-weight="bold" fill="#5c5c5c" text-anchor="middle">G</text>
<circle cx="341.92" cy="244.50" r="2.7" fill="#f2f2f2" stroke="#6e6e6e" stroke-width="0.95"/>
<text x="341.92" y="245.94" font-size="4.0" font-weight="bold" fill="#5c5c5c" text-anchor="middle">G</text>
<circle cx="349.14" cy="244.50" r="2.7" fill="#f2f2f2" stroke="#6e6e6e" stroke-width="0.95"/>
<text x="349.14" y="245.94" font-size="4.0" font-weight="bold" fill="#5c5c5c" text-anchor="middle">A</text>
<circle cx="356.36" cy="244.50" r="2.7" fill="#b4485a" stroke="#702a3a" stroke-width="0.95"/>
<text x="356.36" y="245.94" font-size="4.0" font-weight="bold" fill="#ffffff" text-anchor="middle">T</text>
<circle cx="363.58" cy="244.50" r="2.7" fill="#f2f2f2" stroke="#6e6e6e" stroke-width="0.95"/>
<text x="363.58" y="245.94" font-size="4.0" font-weight="bold" fill="#5c5c5c" text-anchor="middle">C</text>
<circle cx="370.81" cy="244.50" r="2.7" fill="#f2f2f2" stroke="#6e6e6e" stroke-width="0.95"/>
<text x="370.81" y="245.94" font-size="4.0" font-weight="bold" fill="#5c5c5c" text-anchor="middle">C</text>
<circle cx="378.03" cy="244.50" r="2.7" fill="#f2f2f2" stroke="#6e6e6e" stroke-width="0.95"/>
<text x="378.03" y="245.94" font-size="4.0" font-weight="bold" fill="#5c5c5c" text-anchor="middle">C</text>
<circle cx="385.25" cy="244.50" r="2.7" fill="#f2f2f2" stroke="#6e6e6e" stroke-width="0.95"/>
<text x="385.25" y="245.94" font-size="4.0" font-weight="bold" fill="#5c5c5c" text-anchor="middle">C</text>
<circle cx="392.48" cy="244.50" r="2.7" fill="#f2f2f2" stroke="#6e6e6e" stroke-width="0.95"/>
<text x="392.48" y="245.94" font-size="4.0" font-weight="bold" fill="#5c5c5c" text-anchor="middle">C</text>
<circle cx="399.70" cy="244.50" r="2.7" fill="#dcaca6" stroke="#7a5c5a" stroke-width="0.95"/>
<text x="399.70" y="245.94" font-size="4.0" font-weight="bold" fill="#5c5c5c" text-anchor="middle">T</text>
<circle cx="406.92" cy="244.50" r="2.7" fill="#f2f2f2" stroke="#6e6e6e" stroke-width="0.95"/>
<text x="406.92" y="245.94" font-size="4.0" font-weight="bold" fill="#5c5c5c" text-anchor="middle">C</text>
<circle cx="414.15" cy="244.50" r="2.7" fill="#f2f2f2" stroke="#6e6e6e" stroke-width="0.95"/>
<text x="414.15" y="245.94" font-size="4.0" font-weight="bold" fill="#5c5c5c" text-anchor="middle">A</text>
<circle cx="421.37" cy="244.50" r="2.7" fill="#f2f2f2" stroke="#6e6e6e" stroke-width="0.95"/>
<text x="421.37" y="245.94" font-size="4.0" font-weight="bold" fill="#5c5c5c" text-anchor="middle">T</text>
<circle cx="428.59" cy="244.50" r="2.7" fill="#f2f2f2" stroke="#6e6e6e" stroke-width="0.95"/>
<text x="428.59" y="245.94" font-size="4.0" font-weight="bold" fill="#5c5c5c" text-anchor="middle">C</text>
<circle cx="435.82" cy="244.50" r="2.7" fill="#f2f2f2" stroke="#6e6e6e" stroke-width="0.95"/>
<text x="435.82" y="245.94" font-size="4.0" font-weight="bold" fill="#5c5c5c" text-anchor="middle">T</text>
<circle cx="443.04" cy="244.50" r="2.7" fill="#f2f2f2" stroke="#6e6e6e" stroke-width="0.95"/>
<text x="443.04" y="245.94" font-size="4.0" font-weight="bold" fill="#5c5c5c" text-anchor="middle">T</text>
<circle cx="450.26" cy="244.50" r="2.7" fill="#dcaca6" stroke="#7a5c5a" stroke-width="0.95"/>
<text x="450.26" y="245.94" font-size="4.0" font-weight="bold" fill="#5c5c5c" text-anchor="middle">G</text>
<circle cx="457.48" cy="244.50" r="2.7" fill="#e6d6d4" stroke="#6c6262" stroke-width="0.95"/>
<text x="457.48" y="245.94" font-size="4.0" font-weight="bold" fill="#5c5c5c" text-anchor="middle">C</text>
<circle cx="464.71" cy="244.50" r="2.7" fill="#f2f2f2" stroke="#6e6e6e" stroke-width="0.95"/>
<text x="464.71" y="245.94" font-size="4.0" font-weight="bold" fill="#5c5c5c" text-anchor="middle">G</text>
<circle cx="471.93" cy="244.50" r="2.7" fill="#f2f2f2" stroke="#6e6e6e" stroke-width="0.95"/>
<text x="471.93" y="245.94" font-size="4.0" font-weight="bold" fill="#5c5c5c" text-anchor="middle">A</text>
<circle cx="479.15" cy="244.50" r="2.7" fill="#dcaca6" stroke="#7a5c5a" stroke-width="0.95"/>
<text x="479.15" y="245.94" font-size="4.0" font-weight="bold" fill="#5c5c5c" text-anchor="middle">C</text>
<circle cx="486.38" cy="244.50" r="2.7" fill="#cc7c7a" stroke="#7c4a4c" stroke-width="0.95"/>
<text x="486.38" y="245.94" font-size="4.0" font-weight="bold" fill="#5c5c5c" text-anchor="middle">A</text>
<circle cx="493.60" cy="175.90" r="2.7" fill="#f2f2f2" stroke="#6e6e6e" stroke-width="0.95"/>
<text x="493.60" y="177.34" font-size="4.0" font-weight="bold" fill="#5c5c5c" text-anchor="middle">G</text>
<circle cx="493.60" cy="181.74" r="2.7" fill="#f2f2f2" stroke="#6e6e6e" stroke-width="0.95"/>
<text x="493.60" y="183.18" font-size="4.0" font-weight="bold" fill="#5c5c5c" text-anchor="middle">C</text>
<circle cx="493.60" cy="187.58" r="2.7" fill="#f2f2f2" stroke="#6e6e6e" stroke-width="0.95"/>
<text x="493.60" y="189.02" font-size="4.0" font-weight="bold" fill="#5c5c5c" text-anchor="middle">G</text>
<circle cx="493.60" cy="193.42" r="2.7" fill="#f2f2f2" stroke="#6e6e6e" stroke-width="0.95"/>
<text x="493.60" y="194.86" font-size="4.0" font-weight="bold" fill="#5c5c5c" text-anchor="middle">A</text>
<circle cx="493.60" cy="199.26" r="2.7" fill="#f2f2f2" stroke="#6e6e6e" stroke-width="0.95"/>
<text x="493.60" y="200.70" font-size="4.0" font-weight="bold" fill="#5c5c5c" text-anchor="middle">C</text>
<circle cx="493.60" cy="205.10" r="2.7" fill="#dcaca6" stroke="#7a5c5a" stroke-width="0.95"/>
<text x="493.60" y="206.54" font-size="4.0" font-weight="bold" fill="#5c5c5c" text-anchor="middle">T</text>
<circle cx="493.60" cy="210.94" r="2.7" fill="#f2f2f2" stroke="#6e6e6e" stroke-width="0.95"/>
<text x="493.60" y="212.38" font-size="4.0" font-weight="bold" fill="#5c5c5c" text-anchor="middle">C</text>
<circle cx="493.60" cy="216.78" r="2.7" fill="#f2f2f2" stroke="#6e6e6e" stroke-width="0.95"/>
<text x="493.60" y="218.22" font-size="4.0" font-weight="bold" fill="#5c5c5c" text-anchor="middle">G</text>
<circle cx="493.60" cy="222.62" r="2.7" fill="#f2f2f2" stroke="#6e6e6e" stroke-width="0.95"/>
<text x="493.60" y="224.06" font-size="4.0" font-weight="bold" fill="#5c5c5c" text-anchor="middle">C</text>
<circle cx="493.60" cy="228.46" r="2.7" fill="#f2f2f2" stroke="#6e6e6e" stroke-width="0.95"/>
<text x="493.60" y="229.90" font-size="4.0" font-weight="bold" fill="#5c5c5c" text-anchor="middle">G</text>
<circle cx="493.60" cy="234.30" r="2.7" fill="#f2f2f2" stroke="#6e6e6e" stroke-width="0.95"/>
<text x="493.60" y="235.74" font-size="4.0" font-weight="bold" fill="#5c5c5c" text-anchor="middle">G</text>
<circle cx="493.60" cy="244.50" r="2.7" fill="#dcaca6" stroke="#7a5c5a" stroke-width="0.95"/>
<text x="493.60" y="245.94" font-size="4.0" font-weight="bold" fill="#5c5c5c" text-anchor="middle">T</text>
<circle cx="493.60" cy="250.39" r="2.7" fill="#f2f2f2" stroke="#6e6e6e" stroke-width="0.95"/>
<text x="493.60" y="251.83" font-size="4.0" font-weight="bold" fill="#5c5c5c" text-anchor="middle">C</text>
<circle cx="493.60" cy="256.28" r="2.7" fill="#cc1834" stroke="#801426" stroke-width="0.95"/>
<text x="493.60" y="257.72" font-size="4.0" font-weight="bold" fill="#ffffff" text-anchor="middle">C</text>
<circle cx="493.60" cy="262.17" r="2.7" fill="#f2f2f2" stroke="#6e6e6e" stroke-width="0.95"/>
<text x="493.60" y="263.61" font-size="4.0" font-weight="bold" fill="#5c5c5c" text-anchor="middle">T</text>
<circle cx="493.60" cy="268.06" r="2.7" fill="#dcaca6" stroke="#7a5c5a" stroke-width="0.95"/>
<text x="493.60" y="269.50" font-size="4.0" font-weight="bold" fill="#5c5c5c" text-anchor="middle">T</text>
<circle cx="493.60" cy="273.95" r="2.7" fill="#e6d6d4" stroke="#6c6262" stroke-width="0.95"/>
<text x="493.60" y="275.39" font-size="4.0" font-weight="bold" fill="#5c5c5c" text-anchor="middle">T</text>
<circle cx="493.60" cy="279.84" r="2.7" fill="#dcaca6" stroke="#7a5c5a" stroke-width="0.95"/>
<text x="493.60" y="281.28" font-size="4.0" font-weight="bold" fill="#5c5c5c" text-anchor="middle">T</text>
<circle cx="493.60" cy="285.73" r="2.7" fill="#f2f2f2" stroke="#6e6e6e" stroke-width="0.95"/>
<text x="493.60" y="287.17" font-size="4.0" font-weight="bold" fill="#5c5c5c" text-anchor="middle">C</text>
<circle cx="493.60" cy="291.62" r="2.7" fill="#f2f2f2" stroke="#6e6e6e" stroke-width="0.95"/>
<text x="493.60" y="293.06" font-size="4.0" font-weight="bold" fill="#5c5c5c" text-anchor="middle">C</text>
<circle cx="493.60" cy="297.51" r="2.7" fill="#cc1834" stroke="#801426" stroke-width="0.95"/>
<text x="493.60" y="298.95" font-size="4.0" font-weight="bold" fill="#ffffff" text-anchor="middle">G</text>
<circle cx="493.60" cy="303.40" r="2.7" fill="#e6d6d4" stroke="#6c6262" stroke-width="0.95"/>
<text x="493.60" y="304.84" font-size="4.0" font-weight="bold" fill="#5c5c5c" text-anchor="middle">C</text>
<circle cx="500.70" cy="175.90" r="2.7" fill="#f2f2f2" stroke="#6e6e6e" stroke-width="0.95"/>
<text x="500.70" y="177.34" font-size="4.0" font-weight="bold" fill="#5c5c5c" text-anchor="middle">G</text>
<circle cx="500.70" cy="303.40" r="2.7" fill="#cc1834" stroke="#801426" stroke-width="0.95"/>
<text x="500.70" y="304.84" font-size="4.0" font-weight="bold" fill="#ffffff" text-anchor="middle">C</text>
<circle cx="507.90" cy="175.90" r="2.7" fill="#f2f2f2" stroke="#6e6e6e" stroke-width="0.95"/>
<text x="507.90" y="177.34" font-size="4.0" font-weight="bold" fill="#5c5c5c" text-anchor="middle">T</text>
<circle cx="507.90" cy="250.30" r="2.7" fill="#f2f2f2" stroke="#6e6e6e" stroke-width="0.95"/>
<text x="507.90" y="251.74" font-size="4.0" font-weight="bold" fill="#5c5c5c" text-anchor="middle">G</text>
<circle cx="507.90" cy="181.78" r="2.7" fill="#f2f2f2" stroke="#6e6e6e" stroke-width="0.95"/>
<text x="507.90" y="183.22" font-size="4.0" font-weight="bold" fill="#5c5c5c" text-anchor="middle">A</text>
<circle cx="507.90" cy="256.20" r="2.7" fill="#f2f2f2" stroke="#6e6e6e" stroke-width="0.95"/>
<text x="507.90" y="257.64" font-size="4.0" font-weight="bold" fill="#5c5c5c" text-anchor="middle">T</text>
<circle cx="507.90" cy="187.66" r="2.7" fill="#cc7c7a" stroke="#7c4a4c" stroke-width="0.95"/>
<text x="507.90" y="189.10" font-size="4.0" font-weight="bold" fill="#5c5c5c" text-anchor="middle">G</text>
<circle cx="507.90" cy="262.10" r="2.7" fill="#f2f2f2" stroke="#6e6e6e" stroke-width="0.95"/>
<text x="507.90" y="263.54" font-size="4.0" font-weight="bold" fill="#5c5c5c" text-anchor="middle">G</text>
<circle cx="507.90" cy="193.53" r="2.7" fill="#f2f2f2" stroke="#6e6e6e" stroke-width="0.95"/>
<text x="507.90" y="194.97" font-size="4.0" font-weight="bold" fill="#5c5c5c" text-anchor="middle">A</text>
<circle cx="507.90" cy="268.00" r="2.7" fill="#f2f2f2" stroke="#6e6e6e" stroke-width="0.95"/>
<text x="507.90" y="269.44" font-size="4.0" font-weight="bold" fill="#5c5c5c" text-anchor="middle">C</text>
<circle cx="507.90" cy="199.41" r="2.7" fill="#f2f2f2" stroke="#6e6e6e" stroke-width="0.95"/>
<text x="507.90" y="200.85" font-size="4.0" font-weight="bold" fill="#5c5c5c" text-anchor="middle">C</text>
<circle cx="507.90" cy="273.90" r="2.7" fill="#dcaca6" stroke="#7a5c5a" stroke-width="0.95"/>
<text x="507.90" y="275.34" font-size="4.0" font-weight="bold" fill="#5c5c5c" text-anchor="middle">C</text>
<circle cx="507.90" cy="205.29" r="2.7" fill="#f2f2f2" stroke="#6e6e6e" stroke-width="0.95"/>
<text x="507.90" y="206.73" font-size="4.0" font-weight="bold" fill="#5c5c5c" text-anchor="middle">G</text>
<circle cx="507.90" cy="279.80" r="2.7" fill="#f2f2f2" stroke="#6e6e6e" stroke-width="0.95"/>
<text x="507.90" y="281.24" font-size="4.0" font-weight="bold" fill="#5c5c5c" text-anchor="middle">G</text>
<circle cx="507.90" cy="211.17" r="2.7" fill="#f2f2f2" stroke="#6e6e6e" stroke-width="0.95"/>
<text x="507.90" y="212.61" font-size="4.0" font-weight="bold" fill="#5c5c5c" text-anchor="middle">G</text>
<circle cx="507.90" cy="285.70" r="2.7" fill="#f2f2f2" stroke="#6e6e6e" stroke-width="0.95"/>
<text x="507.90" y="287.14" font-size="4.0" font-weight="bold" fill="#5c5c5c" text-anchor="middle">T</text>
<circle cx="507.90" cy="217.04" r="2.7" fill="#dcaca6" stroke="#7a5c5a" stroke-width="0.95"/>
<text x="507.90" y="218.48" font-size="4.0" font-weight="bold" fill="#5c5c5c" text-anchor="middle">G</text>
<circle cx="507.90" cy="291.60" r="2.7" fill="#cc7c7a" stroke="#7c4a4c" stroke-width="0.95"/>
<text x="507.90" y="293.04" font-size="4.0" font-weight="bold" fill="#5c5c5c" text-anchor="middle">T</text>
<circle cx="507.90" cy="222.92" r="2.7" fill="#dcaca6" stroke="#7a5c5a" stroke-width="0.95"/>
<text x="507.90" y="224.36" font-size="4.0" font-weight="bold" fill="#5c5c5c" text-anchor="middle">T</text>
<circle cx="507.90" cy="297.50" r="2.7" fill="#dcaca6" stroke="#7a5c5a" stroke-width="0.95"/>
<text x="507.90" y="298.94" font-size="4.0" font-weight="bold" fill="#5c5c5c" text-anchor="middle">T</text>
<circle cx="507.90" cy="228.80" r="2.7" fill="#f2f2f2" stroke="#6e6e6e" stroke-width="0.95"/>
<text x="507.90" y="230.24" font-size="4.0" font-weight="bold" fill="#5c5c5c" text-anchor="middle">C</text>
<circle cx="507.90" cy="303.40" r="2.7" fill="#f2f2f2" stroke="#6e6e6e" stroke-width="0.95"/>
<text x="507.90" y="304.84" font-size="4.0" font-weight="bold" fill="#5c5c5c" text-anchor="middle">T</text>
<circle cx="507.90" cy="239.50" r="2.7" fill="#f2f2f2" stroke="#6e6e6e" stroke-width="0.95"/>
<text x="507.90" y="240.94" font-size="4.0" font-weight="bold" fill="#5c5c5c" text-anchor="middle">A</text>
<text x="312.2" y="236.2" font-size="10" fill="#333">3′-</text>
<text x="291.0" y="246.6" font-size="10" fill="#333">5′-</text>
<circle cx="353.50" cy="399.80" r="2.7" fill="#f2f2f2" stroke="#6e6e6e" stroke-width="0.95"/>
<text x="353.50" y="401.24" font-size="4.0" font-weight="bold" fill="#5c5c5c" text-anchor="middle">T</text>
<circle cx="359.97" cy="399.80" r="2.7" fill="#f2f2f2" stroke="#6e6e6e" stroke-width="0.95"/>
<text x="359.97" y="401.24" font-size="4.0" font-weight="bold" fill="#5c5c5c" text-anchor="middle">T</text>
<circle cx="366.45" cy="399.80" r="2.7" fill="#f2f2f2" stroke="#6e6e6e" stroke-width="0.95"/>
<text x="366.45" y="401.24" font-size="4.0" font-weight="bold" fill="#5c5c5c" text-anchor="middle">G</text>
<circle cx="372.92" cy="399.80" r="2.7" fill="#f2f2f2" stroke="#6e6e6e" stroke-width="0.95"/>
<text x="372.92" y="401.24" font-size="4.0" font-weight="bold" fill="#5c5c5c" text-anchor="middle">A</text>
<circle cx="379.39" cy="399.80" r="2.7" fill="#f2f2f2" stroke="#6e6e6e" stroke-width="0.95"/>
<text x="379.39" y="401.24" font-size="4.0" font-weight="bold" fill="#5c5c5c" text-anchor="middle">A</text>
<circle cx="385.86" cy="399.80" r="2.7" fill="#f2f2f2" stroke="#6e6e6e" stroke-width="0.95"/>
<text x="385.86" y="401.24" font-size="4.0" font-weight="bold" fill="#5c5c5c" text-anchor="middle">C</text>
<circle cx="392.34" cy="399.80" r="2.7" fill="#dcaca6" stroke="#7a5c5a" stroke-width="0.95"/>
<text x="392.34" y="401.24" font-size="4.0" font-weight="bold" fill="#5c5c5c" text-anchor="middle">T</text>
<circle cx="398.81" cy="399.80" r="2.7" fill="#f2f2f2" stroke="#6e6e6e" stroke-width="0.95"/>
<text x="398.81" y="401.24" font-size="4.0" font-weight="bold" fill="#5c5c5c" text-anchor="middle">C</text>
<circle cx="405.28" cy="399.80" r="2.7" fill="#f2f2f2" stroke="#6e6e6e" stroke-width="0.95"/>
<text x="405.28" y="401.24" font-size="4.0" font-weight="bold" fill="#5c5c5c" text-anchor="middle">T</text>
<circle cx="411.75" cy="399.80" r="2.7" fill="#f2f2f2" stroke="#6e6e6e" stroke-width="0.95"/>
<text x="411.75" y="401.24" font-size="4.0" font-weight="bold" fill="#5c5c5c" text-anchor="middle">G</text>
<circle cx="418.23" cy="399.80" r="2.7" fill="#f2f2f2" stroke="#6e6e6e" stroke-width="0.95"/>
<text x="418.23" y="401.24" font-size="4.0" font-weight="bold" fill="#5c5c5c" text-anchor="middle">T</text>
<circle cx="424.70" cy="399.80" r="2.7" fill="#f2f2f2" stroke="#6e6e6e" stroke-width="0.95"/>
<text x="424.70" y="401.24" font-size="4.0" font-weight="bold" fill="#5c5c5c" text-anchor="middle">G</text>
<circle cx="431.17" cy="399.80" r="2.7" fill="#f2f2f2" stroke="#6e6e6e" stroke-width="0.95"/>
<text x="431.17" y="401.24" font-size="4.0" font-weight="bold" fill="#5c5c5c" text-anchor="middle">G</text>
<circle cx="437.65" cy="399.80" r="2.7" fill="#f2f2f2" stroke="#6e6e6e" stroke-width="0.95"/>
<text x="437.65" y="401.24" font-size="4.0" font-weight="bold" fill="#5c5c5c" text-anchor="middle">C</text>
<circle cx="444.12" cy="399.80" r="2.7" fill="#f2f2f2" stroke="#6e6e6e" stroke-width="0.95"/>
<text x="444.12" y="401.24" font-size="4.0" font-weight="bold" fill="#5c5c5c" text-anchor="middle">T</text>
<circle cx="450.59" cy="399.80" r="2.7" fill="#f2f2f2" stroke="#6e6e6e" stroke-width="0.95"/>
<text x="450.59" y="401.24" font-size="4.0" font-weight="bold" fill="#5c5c5c" text-anchor="middle">C</text>
<circle cx="457.06" cy="399.80" r="2.7" fill="#f2f2f2" stroke="#6e6e6e" stroke-width="0.95"/>
<text x="457.06" y="401.24" font-size="4.0" font-weight="bold" fill="#5c5c5c" text-anchor="middle">T</text>
<circle cx="463.54" cy="399.80" r="2.7" fill="#f2f2f2" stroke="#6e6e6e" stroke-width="0.95"/>
<text x="463.54" y="401.24" font-size="4.0" font-weight="bold" fill="#5c5c5c" text-anchor="middle">T</text>
<circle cx="470.01" cy="399.80" r="2.7" fill="#f2f2f2" stroke="#6e6e6e" stroke-width="0.95"/>
<text x="470.01" y="401.24" font-size="4.0" font-weight="bold" fill="#5c5c5c" text-anchor="middle">T</text>
<circle cx="476.48" cy="399.80" r="2.7" fill="#f2f2f2" stroke="#6e6e6e" stroke-width="0.95"/>
<text x="476.48" y="401.24" font-size="4.0" font-weight="bold" fill="#5c5c5c" text-anchor="middle">G</text>
<circle cx="482.95" cy="399.80" r="2.7" fill="#f2f2f2" stroke="#6e6e6e" stroke-width="0.95"/>
<text x="482.95" y="401.24" font-size="4.0" font-weight="bold" fill="#5c5c5c" text-anchor="middle">T</text>
<circle cx="489.43" cy="399.80" r="2.7" fill="#f2f2f2" stroke="#6e6e6e" stroke-width="0.95"/>
<text x="489.43" y="401.24" font-size="4.0" font-weight="bold" fill="#5c5c5c" text-anchor="middle">T</text>
<circle cx="306.50" cy="409.10" r="2.7" fill="#f2f2f2" stroke="#6e6e6e" stroke-width="0.95"/>
<text x="306.50" y="410.54" font-size="4.0" font-weight="bold" fill="#5c5c5c" text-anchor="middle">A</text>
<circle cx="313.03" cy="409.10" r="2.7" fill="#e6d6d4" stroke="#6c6262" stroke-width="0.95"/>
<text x="313.03" y="410.54" font-size="4.0" font-weight="bold" fill="#5c5c5c" text-anchor="middle">T</text>
<circle cx="319.56" cy="409.10" r="2.7" fill="#dcaca6" stroke="#7a5c5a" stroke-width="0.95"/>
<text x="319.56" y="410.54" font-size="4.0" font-weight="bold" fill="#5c5c5c" text-anchor="middle">G</text>
<circle cx="326.09" cy="409.10" r="2.7" fill="#cc1834" stroke="#801426" stroke-width="0.95"/>
<text x="326.09" y="410.54" font-size="4.0" font-weight="bold" fill="#ffffff" text-anchor="middle">C</text>
<circle cx="332.62" cy="409.10" r="2.7" fill="#f2f2f2" stroke="#6e6e6e" stroke-width="0.95"/>
<text x="332.62" y="410.54" font-size="4.0" font-weight="bold" fill="#5c5c5c" text-anchor="middle">C</text>
<circle cx="339.16" cy="409.10" r="2.7" fill="#f2f2f2" stroke="#6e6e6e" stroke-width="0.95"/>
<text x="339.16" y="410.54" font-size="4.0" font-weight="bold" fill="#5c5c5c" text-anchor="middle">C</text>
<circle cx="345.69" cy="409.10" r="2.7" fill="#dcaca6" stroke="#7a5c5a" stroke-width="0.95"/>
<text x="345.69" y="410.54" font-size="4.0" font-weight="bold" fill="#5c5c5c" text-anchor="middle">T</text>
<circle cx="352.22" cy="409.10" r="2.7" fill="#e6d6d4" stroke="#6c6262" stroke-width="0.95"/>
<text x="352.22" y="410.54" font-size="4.0" font-weight="bold" fill="#5c5c5c" text-anchor="middle">T</text>
<circle cx="358.75" cy="409.10" r="2.7" fill="#cc7c7a" stroke="#7c4a4c" stroke-width="0.95"/>
<text x="358.75" y="410.54" font-size="4.0" font-weight="bold" fill="#5c5c5c" text-anchor="middle">G</text>
<circle cx="365.28" cy="409.10" r="2.7" fill="#f2f2f2" stroke="#6e6e6e" stroke-width="0.95"/>
<text x="365.28" y="410.54" font-size="4.0" font-weight="bold" fill="#5c5c5c" text-anchor="middle">C</text>
<circle cx="371.81" cy="409.10" r="2.7" fill="#f2f2f2" stroke="#6e6e6e" stroke-width="0.95"/>
<text x="371.81" y="410.54" font-size="4.0" font-weight="bold" fill="#5c5c5c" text-anchor="middle">G</text>
<circle cx="378.34" cy="409.10" r="2.7" fill="#f2f2f2" stroke="#6e6e6e" stroke-width="0.95"/>
<text x="378.34" y="410.54" font-size="4.0" font-weight="bold" fill="#5c5c5c" text-anchor="middle">C</text>
<circle cx="384.87" cy="409.10" r="2.7" fill="#f2f2f2" stroke="#6e6e6e" stroke-width="0.95"/>
<text x="384.87" y="410.54" font-size="4.0" font-weight="bold" fill="#5c5c5c" text-anchor="middle">C</text>
<circle cx="391.40" cy="409.10" r="2.7" fill="#e6d6d4" stroke="#6c6262" stroke-width="0.95"/>
<text x="391.40" y="410.54" font-size="4.0" font-weight="bold" fill="#5c5c5c" text-anchor="middle">T</text>
<circle cx="397.93" cy="409.10" r="2.7" fill="#dcaca6" stroke="#7a5c5a" stroke-width="0.95"/>
<text x="397.93" y="410.54" font-size="4.0" font-weight="bold" fill="#5c5c5c" text-anchor="middle">C</text>
<circle cx="404.47" cy="409.10" r="2.7" fill="#f2f2f2" stroke="#6e6e6e" stroke-width="0.95"/>
<text x="404.47" y="410.54" font-size="4.0" font-weight="bold" fill="#5c5c5c" text-anchor="middle">C</text>
<circle cx="411.00" cy="409.10" r="2.7" fill="#f2f2f2" stroke="#6e6e6e" stroke-width="0.95"/>
<text x="411.00" y="410.54" font-size="4.0" font-weight="bold" fill="#5c5c5c" text-anchor="middle">G</text>
<circle cx="417.53" cy="409.10" r="2.7" fill="#dcaca6" stroke="#7a5c5a" stroke-width="0.95"/>
<text x="417.53" y="410.54" font-size="4.0" font-weight="bold" fill="#5c5c5c" text-anchor="middle">G</text>
<circle cx="424.06" cy="409.10" r="2.7" fill="#f2f2f2" stroke="#6e6e6e" stroke-width="0.95"/>
<text x="424.06" y="410.54" font-size="4.0" font-weight="bold" fill="#5c5c5c" text-anchor="middle">G</text>
<circle cx="430.59" cy="409.10" r="2.7" fill="#f2f2f2" stroke="#6e6e6e" stroke-width="0.95"/>
<text x="430.59" y="410.54" font-size="4.0" font-weight="bold" fill="#5c5c5c" text-anchor="middle">A</text>
<circle cx="437.12" cy="409.10" r="2.7" fill="#f2f2f2" stroke="#6e6e6e" stroke-width="0.95"/>
<text x="437.12" y="410.54" font-size="4.0" font-weight="bold" fill="#5c5c5c" text-anchor="middle">G</text>
<circle cx="443.65" cy="409.10" r="2.7" fill="#dcaca6" stroke="#7a5c5a" stroke-width="0.95"/>
<text x="443.65" y="410.54" font-size="4.0" font-weight="bold" fill="#5c5c5c" text-anchor="middle">T</text>
<circle cx="450.18" cy="409.10" r="2.7" fill="#e6d6d4" stroke="#6c6262" stroke-width="0.95"/>
<text x="450.18" y="410.54" font-size="4.0" font-weight="bold" fill="#5c5c5c" text-anchor="middle">G</text>
<circle cx="456.71" cy="409.10" r="2.7" fill="#f2f2f2" stroke="#6e6e6e" stroke-width="0.95"/>
<text x="456.71" y="410.54" font-size="4.0" font-weight="bold" fill="#5c5c5c" text-anchor="middle">T</text>
<circle cx="463.24" cy="409.10" r="2.7" fill="#f2f2f2" stroke="#6e6e6e" stroke-width="0.95"/>
<text x="463.24" y="410.54" font-size="4.0" font-weight="bold" fill="#5c5c5c" text-anchor="middle">G</text>
<circle cx="469.78" cy="409.10" r="2.7" fill="#cc1834" stroke="#801426" stroke-width="0.95"/>
<text x="469.78" y="410.54" font-size="4.0" font-weight="bold" fill="#ffffff" text-anchor="middle">G</text>
<circle cx="476.31" cy="409.10" r="2.7" fill="#cc1834" stroke="#801426" stroke-width="0.95"/>
<text x="476.31" y="410.54" font-size="4.0" font-weight="bold" fill="#ffffff" text-anchor="middle">G</text>
<circle cx="482.84" cy="409.10" r="2.7" fill="#dcaca6" stroke="#7a5c5a" stroke-width="0.95"/>
<text x="482.84" y="410.54" font-size="4.0" font-weight="bold" fill="#5c5c5c" text-anchor="middle">A</text>
<circle cx="489.37" cy="409.10" r="2.7" fill="#dcaca6" stroke="#7a5c5a" stroke-width="0.95"/>
<text x="489.37" y="410.54" font-size="4.0" font-weight="bold" fill="#5c5c5c" text-anchor="middle">A</text>
<circle cx="495.90" cy="341.20" r="2.7" fill="#dcaca6" stroke="#7a5c5a" stroke-width="0.95"/>
<text x="495.90" y="342.64" font-size="4.0" font-weight="bold" fill="#5c5c5c" text-anchor="middle">C</text>
<circle cx="495.90" cy="347.06" r="2.7" fill="#f2f2f2" stroke="#6e6e6e" stroke-width="0.95"/>
<text x="495.90" y="348.50" font-size="4.0" font-weight="bold" fill="#5c5c5c" text-anchor="middle">G</text>
<circle cx="495.90" cy="352.92" r="2.7" fill="#dcaca6" stroke="#7a5c5a" stroke-width="0.95"/>
<text x="495.90" y="354.36" font-size="4.0" font-weight="bold" fill="#5c5c5c" text-anchor="middle">C</text>
<circle cx="495.90" cy="358.78" r="2.7" fill="#f2f2f2" stroke="#6e6e6e" stroke-width="0.95"/>
<text x="495.90" y="360.22" font-size="4.0" font-weight="bold" fill="#5c5c5c" text-anchor="middle">T</text>
<circle cx="495.90" cy="364.64" r="2.7" fill="#dcaca6" stroke="#7a5c5a" stroke-width="0.95"/>
<text x="495.90" y="366.08" font-size="4.0" font-weight="bold" fill="#5c5c5c" text-anchor="middle">T</text>
<circle cx="495.90" cy="370.50" r="2.7" fill="#f2f2f2" stroke="#6e6e6e" stroke-width="0.95"/>
<text x="495.90" y="371.94" font-size="4.0" font-weight="bold" fill="#5c5c5c" text-anchor="middle">A</text>
<circle cx="495.90" cy="376.36" r="2.7" fill="#dcaca6" stroke="#7a5c5a" stroke-width="0.95"/>
<text x="495.90" y="377.80" font-size="4.0" font-weight="bold" fill="#5c5c5c" text-anchor="middle">C</text>
<circle cx="495.90" cy="382.22" r="2.7" fill="#f2f2f2" stroke="#6e6e6e" stroke-width="0.95"/>
<text x="495.90" y="383.66" font-size="4.0" font-weight="bold" fill="#5c5c5c" text-anchor="middle">T</text>
<circle cx="495.90" cy="388.08" r="2.7" fill="#f2f2f2" stroke="#6e6e6e" stroke-width="0.95"/>
<text x="495.90" y="389.52" font-size="4.0" font-weight="bold" fill="#5c5c5c" text-anchor="middle">C</text>
<circle cx="495.90" cy="393.94" r="2.7" fill="#f2f2f2" stroke="#6e6e6e" stroke-width="0.95"/>
<text x="495.90" y="395.38" font-size="4.0" font-weight="bold" fill="#5c5c5c" text-anchor="middle">T</text>
<circle cx="495.90" cy="399.80" r="2.7" fill="#f2f2f2" stroke="#6e6e6e" stroke-width="0.95"/>
<text x="495.90" y="401.24" font-size="4.0" font-weight="bold" fill="#5c5c5c" text-anchor="middle">G</text>
<circle cx="495.90" cy="409.10" r="2.7" fill="#f2f2f2" stroke="#6e6e6e" stroke-width="0.95"/>
<text x="495.90" y="410.54" font-size="4.0" font-weight="bold" fill="#5c5c5c" text-anchor="middle">C</text>
<circle cx="495.90" cy="414.91" r="2.7" fill="#f2f2f2" stroke="#6e6e6e" stroke-width="0.95"/>
<text x="495.90" y="416.35" font-size="4.0" font-weight="bold" fill="#5c5c5c" text-anchor="middle">C</text>
<circle cx="495.90" cy="420.72" r="2.7" fill="#cc1834" stroke="#801426" stroke-width="0.95"/>
<text x="495.90" y="422.16" font-size="4.0" font-weight="bold" fill="#ffffff" text-anchor="middle">G</text>
<circle cx="495.90" cy="426.53" r="2.7" fill="#e6d6d4" stroke="#6c6262" stroke-width="0.95"/>
<text x="495.90" y="427.97" font-size="4.0" font-weight="bold" fill="#5c5c5c" text-anchor="middle">A</text>
<circle cx="495.90" cy="432.34" r="2.7" fill="#dcaca6" stroke="#7a5c5a" stroke-width="0.95"/>
<text x="495.90" y="433.78" font-size="4.0" font-weight="bold" fill="#5c5c5c" text-anchor="middle">G</text>
<circle cx="495.90" cy="438.15" r="2.7" fill="#e6d6d4" stroke="#6c6262" stroke-width="0.95"/>
<text x="495.90" y="439.59" font-size="4.0" font-weight="bold" fill="#5c5c5c" text-anchor="middle">T</text>
<circle cx="495.90" cy="443.96" r="2.7" fill="#dcaca6" stroke="#7a5c5a" stroke-width="0.95"/>
<text x="495.90" y="445.40" font-size="4.0" font-weight="bold" fill="#5c5c5c" text-anchor="middle">C</text>
<circle cx="495.90" cy="449.77" r="2.7" fill="#f2f2f2" stroke="#6e6e6e" stroke-width="0.95"/>
<text x="495.90" y="451.21" font-size="4.0" font-weight="bold" fill="#5c5c5c" text-anchor="middle">G</text>
<circle cx="495.90" cy="455.58" r="2.7" fill="#f2f2f2" stroke="#6e6e6e" stroke-width="0.95"/>
<text x="495.90" y="457.02" font-size="4.0" font-weight="bold" fill="#5c5c5c" text-anchor="middle">G</text>
<circle cx="495.90" cy="461.39" r="2.7" fill="#cc1834" stroke="#801426" stroke-width="0.95"/>
<text x="495.90" y="462.83" font-size="4.0" font-weight="bold" fill="#ffffff" text-anchor="middle">A</text>
<circle cx="495.90" cy="467.20" r="2.7" fill="#e6d6d4" stroke="#6c6262" stroke-width="0.95"/>
<text x="495.90" y="468.64" font-size="4.0" font-weight="bold" fill="#5c5c5c" text-anchor="middle">T</text>
<circle cx="502.30" cy="341.20" r="2.7" fill="#f2f2f2" stroke="#6e6e6e" stroke-width="0.95"/>
<text x="502.30" y="342.64" font-size="4.0" font-weight="bold" fill="#5c5c5c" text-anchor="middle">G</text>
<circle cx="502.30" cy="467.20" r="2.7" fill="#f2f2f2" stroke="#6e6e6e" stroke-width="0.95"/>
<text x="502.30" y="468.64" font-size="4.0" font-weight="bold" fill="#5c5c5c" text-anchor="middle">A</text>
<circle cx="508.60" cy="341.20" r="2.7" fill="#f2f2f2" stroke="#6e6e6e" stroke-width="0.95"/>
<text x="508.60" y="342.64" font-size="4.0" font-weight="bold" fill="#5c5c5c" text-anchor="middle">G</text>
<circle cx="508.60" cy="414.50" r="2.7" fill="#dcaca6" stroke="#7a5c5a" stroke-width="0.95"/>
<text x="508.60" y="415.94" font-size="4.0" font-weight="bold" fill="#5c5c5c" text-anchor="middle">G</text>
<circle cx="508.60" cy="347.12" r="2.7" fill="#f2f2f2" stroke="#6e6e6e" stroke-width="0.95"/>
<text x="508.60" y="348.56" font-size="4.0" font-weight="bold" fill="#5c5c5c" text-anchor="middle">G</text>
<circle cx="508.60" cy="420.36" r="2.7" fill="#dcaca6" stroke="#7a5c5a" stroke-width="0.95"/>
<text x="508.60" y="421.80" font-size="4.0" font-weight="bold" fill="#5c5c5c" text-anchor="middle">T</text>
<circle cx="508.60" cy="353.04" r="2.7" fill="#f2f2f2" stroke="#6e6e6e" stroke-width="0.95"/>
<text x="508.60" y="354.48" font-size="4.0" font-weight="bold" fill="#5c5c5c" text-anchor="middle">C</text>
<circle cx="508.60" cy="426.21" r="2.7" fill="#f2f2f2" stroke="#6e6e6e" stroke-width="0.95"/>
<text x="508.60" y="427.65" font-size="4.0" font-weight="bold" fill="#5c5c5c" text-anchor="middle">A</text>
<circle cx="508.60" cy="358.97" r="2.7" fill="#f2f2f2" stroke="#6e6e6e" stroke-width="0.95"/>
<text x="508.60" y="360.41" font-size="4.0" font-weight="bold" fill="#5c5c5c" text-anchor="middle">G</text>
<circle cx="508.60" cy="432.07" r="2.7" fill="#f2f2f2" stroke="#6e6e6e" stroke-width="0.95"/>
<text x="508.60" y="433.51" font-size="4.0" font-weight="bold" fill="#5c5c5c" text-anchor="middle">T</text>
<circle cx="508.60" cy="364.89" r="2.7" fill="#dcaca6" stroke="#7a5c5a" stroke-width="0.95"/>
<text x="508.60" y="366.33" font-size="4.0" font-weight="bold" fill="#5c5c5c" text-anchor="middle">C</text>
<circle cx="508.60" cy="437.92" r="2.7" fill="#f2f2f2" stroke="#6e6e6e" stroke-width="0.95"/>
<text x="508.60" y="439.36" font-size="4.0" font-weight="bold" fill="#5c5c5c" text-anchor="middle">A</text>
<circle cx="508.60" cy="370.81" r="2.7" fill="#f2f2f2" stroke="#6e6e6e" stroke-width="0.95"/>
<text x="508.60" y="372.25" font-size="4.0" font-weight="bold" fill="#5c5c5c" text-anchor="middle">T</text>
<circle cx="508.60" cy="443.78" r="2.7" fill="#f2f2f2" stroke="#6e6e6e" stroke-width="0.95"/>
<text x="508.60" y="445.22" font-size="4.0" font-weight="bold" fill="#5c5c5c" text-anchor="middle">T</text>
<circle cx="508.60" cy="376.73" r="2.7" fill="#f2f2f2" stroke="#6e6e6e" stroke-width="0.95"/>
<text x="508.60" y="378.17" font-size="4.0" font-weight="bold" fill="#5c5c5c" text-anchor="middle">C</text>
<circle cx="508.60" cy="449.63" r="2.7" fill="#f2f2f2" stroke="#6e6e6e" stroke-width="0.95"/>
<text x="508.60" y="451.07" font-size="4.0" font-weight="bold" fill="#5c5c5c" text-anchor="middle">A</text>
<circle cx="508.60" cy="382.66" r="2.7" fill="#f2f2f2" stroke="#6e6e6e" stroke-width="0.95"/>
<text x="508.60" y="384.10" font-size="4.0" font-weight="bold" fill="#5c5c5c" text-anchor="middle">C</text>
<circle cx="508.60" cy="455.49" r="2.7" fill="#cc1834" stroke="#801426" stroke-width="0.95"/>
<text x="508.60" y="456.93" font-size="4.0" font-weight="bold" fill="#ffffff" text-anchor="middle">T</text>
<circle cx="508.60" cy="388.58" r="2.7" fill="#dcaca6" stroke="#7a5c5a" stroke-width="0.95"/>
<text x="508.60" y="390.02" font-size="4.0" font-weight="bold" fill="#5c5c5c" text-anchor="middle">A</text>
<circle cx="508.60" cy="461.34" r="2.7" fill="#f2f2f2" stroke="#6e6e6e" stroke-width="0.95"/>
<text x="508.60" y="462.78" font-size="4.0" font-weight="bold" fill="#5c5c5c" text-anchor="middle">C</text>
<circle cx="508.60" cy="394.50" r="2.7" fill="#f2f2f2" stroke="#6e6e6e" stroke-width="0.95"/>
<text x="508.60" y="395.94" font-size="4.0" font-weight="bold" fill="#5c5c5c" text-anchor="middle">T</text>
<circle cx="508.60" cy="467.20" r="2.7" fill="#cc1834" stroke="#801426" stroke-width="0.95"/>
<text x="508.60" y="468.64" font-size="4.0" font-weight="bold" fill="#ffffff" text-anchor="middle">G</text>
<circle cx="508.60" cy="404.30" r="2.7" fill="#f2f2f2" stroke="#6e6e6e" stroke-width="0.95"/>
<text x="508.60" y="405.74" font-size="4.0" font-weight="bold" fill="#5c5c5c" text-anchor="middle">A</text>
<text x="338.2" y="402.0" font-size="10" fill="#333">3′-</text>
<text x="291.0" y="409.8" font-size="10" fill="#333">5′-</text>
<circle cx="342.10" cy="555.80" r="2.42" fill="#f2f2f2" stroke="#6e6e6e" stroke-width="0.92"/>
<text x="342.10" y="557.13" font-size="3.7" font-weight="bold" fill="#5c5c5c" text-anchor="middle">T</text>
<circle cx="348.06" cy="555.80" r="2.42" fill="#f2f2f2" stroke="#6e6e6e" stroke-width="0.92"/>
<text x="348.06" y="557.13" font-size="3.7" font-weight="bold" fill="#5c5c5c" text-anchor="middle">C</text>
<circle cx="354.02" cy="555.80" r="2.42" fill="#f2f2f2" stroke="#6e6e6e" stroke-width="0.92"/>
<text x="354.02" y="557.13" font-size="3.7" font-weight="bold" fill="#5c5c5c" text-anchor="middle">T</text>
<circle cx="359.97" cy="555.80" r="2.42" fill="#f2f2f2" stroke="#6e6e6e" stroke-width="0.92"/>
<text x="359.97" y="557.13" font-size="3.7" font-weight="bold" fill="#5c5c5c" text-anchor="middle">T</text>
<circle cx="365.93" cy="555.80" r="2.42" fill="#f2f2f2" stroke="#6e6e6e" stroke-width="0.92"/>
<text x="365.93" y="557.13" font-size="3.7" font-weight="bold" fill="#5c5c5c" text-anchor="middle">T</text>
<circle cx="371.89" cy="555.80" r="2.42" fill="#f2f2f2" stroke="#6e6e6e" stroke-width="0.92"/>
<text x="371.89" y="557.13" font-size="3.7" font-weight="bold" fill="#5c5c5c" text-anchor="middle">C</text>
<circle cx="377.85" cy="555.80" r="2.42" fill="#f2f2f2" stroke="#6e6e6e" stroke-width="0.92"/>
<text x="377.85" y="557.13" font-size="3.7" font-weight="bold" fill="#5c5c5c" text-anchor="middle">T</text>
<circle cx="383.80" cy="555.80" r="2.42" fill="#f2f2f2" stroke="#6e6e6e" stroke-width="0.92"/>
<text x="383.80" y="557.13" font-size="3.7" font-weight="bold" fill="#5c5c5c" text-anchor="middle">T</text>
<circle cx="389.76" cy="555.80" r="2.42" fill="#f2f2f2" stroke="#6e6e6e" stroke-width="0.92"/>
<text x="389.76" y="557.13" font-size="3.7" font-weight="bold" fill="#5c5c5c" text-anchor="middle">G</text>
<circle cx="395.72" cy="555.80" r="2.42" fill="#f2f2f2" stroke="#6e6e6e" stroke-width="0.92"/>
<text x="395.72" y="557.13" font-size="3.7" font-weight="bold" fill="#5c5c5c" text-anchor="middle">C</text>
<circle cx="401.68" cy="555.80" r="2.42" fill="#f2f2f2" stroke="#6e6e6e" stroke-width="0.92"/>
<text x="401.68" y="557.13" font-size="3.7" font-weight="bold" fill="#5c5c5c" text-anchor="middle">C</text>
<circle cx="407.63" cy="555.80" r="2.42" fill="#f2f2f2" stroke="#6e6e6e" stroke-width="0.92"/>
<text x="407.63" y="557.13" font-size="3.7" font-weight="bold" fill="#5c5c5c" text-anchor="middle">C</text>
<circle cx="413.59" cy="555.80" r="2.42" fill="#f2f2f2" stroke="#6e6e6e" stroke-width="0.92"/>
<text x="413.59" y="557.13" font-size="3.7" font-weight="bold" fill="#5c5c5c" text-anchor="middle">T</text>
<circle cx="419.55" cy="555.80" r="2.42" fill="#f2f2f2" stroke="#6e6e6e" stroke-width="0.92"/>
<text x="419.55" y="557.13" font-size="3.7" font-weight="bold" fill="#5c5c5c" text-anchor="middle">G</text>
<circle cx="425.51" cy="555.80" r="2.42" fill="#f2f2f2" stroke="#6e6e6e" stroke-width="0.92"/>
<text x="425.51" y="557.13" font-size="3.7" font-weight="bold" fill="#5c5c5c" text-anchor="middle">C</text>
<circle cx="431.47" cy="555.80" r="2.42" fill="#f2f2f2" stroke="#6e6e6e" stroke-width="0.92"/>
<text x="431.47" y="557.13" font-size="3.7" font-weight="bold" fill="#5c5c5c" text-anchor="middle">T</text>
<circle cx="437.42" cy="555.80" r="2.42" fill="#f2f2f2" stroke="#6e6e6e" stroke-width="0.92"/>
<text x="437.42" y="557.13" font-size="3.7" font-weight="bold" fill="#5c5c5c" text-anchor="middle">C</text>
<circle cx="443.38" cy="555.80" r="2.42" fill="#f2f2f2" stroke="#6e6e6e" stroke-width="0.92"/>
<text x="443.38" y="557.13" font-size="3.7" font-weight="bold" fill="#5c5c5c" text-anchor="middle">C</text>
<circle cx="449.34" cy="555.80" r="2.42" fill="#f2f2f2" stroke="#6e6e6e" stroke-width="0.92"/>
<text x="449.34" y="557.13" font-size="3.7" font-weight="bold" fill="#5c5c5c" text-anchor="middle">T</text>
<circle cx="455.30" cy="555.80" r="2.42" fill="#f2f2f2" stroke="#6e6e6e" stroke-width="0.92"/>
<text x="455.30" y="557.13" font-size="3.7" font-weight="bold" fill="#5c5c5c" text-anchor="middle">C</text>
<circle cx="461.25" cy="555.80" r="2.42" fill="#f2f2f2" stroke="#6e6e6e" stroke-width="0.92"/>
<text x="461.25" y="557.13" font-size="3.7" font-weight="bold" fill="#5c5c5c" text-anchor="middle">C</text>
<circle cx="467.21" cy="555.80" r="2.42" fill="#f2f2f2" stroke="#6e6e6e" stroke-width="0.92"/>
<text x="467.21" y="557.13" font-size="3.7" font-weight="bold" fill="#5c5c5c" text-anchor="middle">G</text>
<circle cx="473.17" cy="555.80" r="2.42" fill="#f2f2f2" stroke="#6e6e6e" stroke-width="0.92"/>
<text x="473.17" y="557.13" font-size="3.7" font-weight="bold" fill="#5c5c5c" text-anchor="middle">G</text>
<circle cx="479.13" cy="555.80" r="2.42" fill="#f2f2f2" stroke="#6e6e6e" stroke-width="0.92"/>
<text x="479.13" y="557.13" font-size="3.7" font-weight="bold" fill="#5c5c5c" text-anchor="middle">G</text>
<circle cx="485.08" cy="555.80" r="2.42" fill="#f2f2f2" stroke="#6e6e6e" stroke-width="0.92"/>
<text x="485.08" y="557.13" font-size="3.7" font-weight="bold" fill="#5c5c5c" text-anchor="middle">C</text>
<circle cx="491.04" cy="555.80" r="2.42" fill="#f2f2f2" stroke="#6e6e6e" stroke-width="0.92"/>
<text x="491.04" y="557.13" font-size="3.7" font-weight="bold" fill="#5c5c5c" text-anchor="middle">G</text>
<circle cx="306.60" cy="566.80" r="2.42" fill="#f2f2f2" stroke="#6e6e6e" stroke-width="0.92"/>
<text x="306.60" y="568.13" font-size="3.7" font-weight="bold" fill="#5c5c5c" text-anchor="middle">T</text>
<circle cx="312.55" cy="566.80" r="2.42" fill="#f2f2f2" stroke="#6e6e6e" stroke-width="0.92"/>
<text x="312.55" y="568.13" font-size="3.7" font-weight="bold" fill="#5c5c5c" text-anchor="middle">T</text>
<circle cx="318.50" cy="566.80" r="2.42" fill="#f2f2f2" stroke="#6e6e6e" stroke-width="0.92"/>
<text x="318.50" y="568.13" font-size="3.7" font-weight="bold" fill="#5c5c5c" text-anchor="middle">C</text>
<circle cx="324.45" cy="566.80" r="2.42" fill="#f2f2f2" stroke="#6e6e6e" stroke-width="0.92"/>
<text x="324.45" y="568.13" font-size="3.7" font-weight="bold" fill="#5c5c5c" text-anchor="middle">C</text>
<circle cx="330.40" cy="566.80" r="2.42" fill="#f2f2f2" stroke="#6e6e6e" stroke-width="0.92"/>
<text x="330.40" y="568.13" font-size="3.7" font-weight="bold" fill="#5c5c5c" text-anchor="middle">T</text>
<circle cx="336.35" cy="566.80" r="2.42" fill="#f2f2f2" stroke="#6e6e6e" stroke-width="0.92"/>
<text x="336.35" y="568.13" font-size="3.7" font-weight="bold" fill="#5c5c5c" text-anchor="middle">G</text>
<circle cx="342.30" cy="566.80" r="2.42" fill="#cc7c7a" stroke="#7c4a4c" stroke-width="0.92"/>
<text x="342.30" y="568.13" font-size="3.7" font-weight="bold" fill="#5c5c5c" text-anchor="middle">T</text>
<circle cx="348.25" cy="566.80" r="2.42" fill="#cc7c7a" stroke="#7c4a4c" stroke-width="0.92"/>
<text x="348.25" y="568.13" font-size="3.7" font-weight="bold" fill="#5c5c5c" text-anchor="middle">G</text>
<circle cx="354.20" cy="566.80" r="2.42" fill="#cc7c7a" stroke="#7c4a4c" stroke-width="0.92"/>
<text x="354.20" y="568.13" font-size="3.7" font-weight="bold" fill="#5c5c5c" text-anchor="middle">C</text>
<circle cx="360.15" cy="566.80" r="2.42" fill="#dcaca6" stroke="#7a5c5a" stroke-width="0.92"/>
<text x="360.15" y="568.13" font-size="3.7" font-weight="bold" fill="#5c5c5c" text-anchor="middle">C</text>
<circle cx="366.10" cy="566.80" r="2.42" fill="#dcaca6" stroke="#7a5c5a" stroke-width="0.92"/>
<text x="366.10" y="568.13" font-size="3.7" font-weight="bold" fill="#5c5c5c" text-anchor="middle">G</text>
<circle cx="372.05" cy="566.80" r="2.42" fill="#dcaca6" stroke="#7a5c5a" stroke-width="0.92"/>
<text x="372.05" y="568.13" font-size="3.7" font-weight="bold" fill="#5c5c5c" text-anchor="middle">C</text>
<circle cx="378.00" cy="566.80" r="2.42" fill="#cc7c7a" stroke="#7c4a4c" stroke-width="0.92"/>
<text x="378.00" y="568.13" font-size="3.7" font-weight="bold" fill="#5c5c5c" text-anchor="middle">T</text>
<circle cx="383.95" cy="566.80" r="2.42" fill="#cc7c7a" stroke="#7c4a4c" stroke-width="0.92"/>
<text x="383.95" y="568.13" font-size="3.7" font-weight="bold" fill="#5c5c5c" text-anchor="middle">G</text>
<circle cx="389.90" cy="566.80" r="2.42" fill="#f2f2f2" stroke="#6e6e6e" stroke-width="0.92"/>
<text x="389.90" y="568.13" font-size="3.7" font-weight="bold" fill="#5c5c5c" text-anchor="middle">G</text>
<circle cx="395.85" cy="566.80" r="2.42" fill="#b4485a" stroke="#702a3a" stroke-width="0.92"/>
<text x="395.85" y="568.13" font-size="3.7" font-weight="bold" fill="#ffffff" text-anchor="middle">C</text>
<circle cx="401.80" cy="566.80" r="2.42" fill="#cc7c7a" stroke="#7c4a4c" stroke-width="0.92"/>
<text x="401.80" y="568.13" font-size="3.7" font-weight="bold" fill="#5c5c5c" text-anchor="middle">G</text>
<circle cx="407.75" cy="566.80" r="2.42" fill="#dcaca6" stroke="#7a5c5a" stroke-width="0.92"/>
<text x="407.75" y="568.13" font-size="3.7" font-weight="bold" fill="#5c5c5c" text-anchor="middle">A</text>
<circle cx="413.70" cy="566.80" r="2.42" fill="#dcaca6" stroke="#7a5c5a" stroke-width="0.92"/>
<text x="413.70" y="568.13" font-size="3.7" font-weight="bold" fill="#5c5c5c" text-anchor="middle">G</text>
<circle cx="419.65" cy="566.80" r="2.42" fill="#cc7c7a" stroke="#7c4a4c" stroke-width="0.92"/>
<text x="419.65" y="568.13" font-size="3.7" font-weight="bold" fill="#5c5c5c" text-anchor="middle">T</text>
<circle cx="425.60" cy="566.80" r="2.42" fill="#cc7c7a" stroke="#7c4a4c" stroke-width="0.92"/>
<text x="425.60" y="568.13" font-size="3.7" font-weight="bold" fill="#5c5c5c" text-anchor="middle">T</text>
<circle cx="431.55" cy="566.80" r="2.42" fill="#f2f2f2" stroke="#6e6e6e" stroke-width="0.92"/>
<text x="431.55" y="568.13" font-size="3.7" font-weight="bold" fill="#5c5c5c" text-anchor="middle">A</text>
<circle cx="437.50" cy="566.80" r="2.42" fill="#f2f2f2" stroke="#6e6e6e" stroke-width="0.92"/>
<text x="437.50" y="568.13" font-size="3.7" font-weight="bold" fill="#5c5c5c" text-anchor="middle">C</text>
<circle cx="443.45" cy="566.80" r="2.42" fill="#f2f2f2" stroke="#6e6e6e" stroke-width="0.92"/>
<text x="443.45" y="568.13" font-size="3.7" font-weight="bold" fill="#5c5c5c" text-anchor="middle">G</text>
<circle cx="449.40" cy="566.80" r="2.42" fill="#e6d6d4" stroke="#6c6262" stroke-width="0.92"/>
<text x="449.40" y="568.13" font-size="3.7" font-weight="bold" fill="#5c5c5c" text-anchor="middle">C</text>
<circle cx="455.35" cy="566.80" r="2.42" fill="#e6d6d4" stroke="#6c6262" stroke-width="0.92"/>
<text x="455.35" y="568.13" font-size="3.7" font-weight="bold" fill="#5c5c5c" text-anchor="middle">C</text>
<circle cx="461.30" cy="566.80" r="2.42" fill="#f2f2f2" stroke="#6e6e6e" stroke-width="0.92"/>
<text x="461.30" y="568.13" font-size="3.7" font-weight="bold" fill="#5c5c5c" text-anchor="middle">C</text>
<circle cx="467.25" cy="566.80" r="2.42" fill="#cc7c7a" stroke="#7c4a4c" stroke-width="0.92"/>
<text x="467.25" y="568.13" font-size="3.7" font-weight="bold" fill="#5c5c5c" text-anchor="middle">T</text>
<circle cx="473.20" cy="566.80" r="2.42" fill="#e6d6d4" stroke="#6c6262" stroke-width="0.92"/>
<text x="473.20" y="568.13" font-size="3.7" font-weight="bold" fill="#5c5c5c" text-anchor="middle">C</text>
<circle cx="479.15" cy="566.80" r="2.42" fill="#e6d6d4" stroke="#6c6262" stroke-width="0.92"/>
<text x="479.15" y="568.13" font-size="3.7" font-weight="bold" fill="#5c5c5c" text-anchor="middle">C</text>
<circle cx="485.10" cy="566.80" r="2.42" fill="#e6d6d4" stroke="#6c6262" stroke-width="0.92"/>
<text x="485.10" y="568.13" font-size="3.7" font-weight="bold" fill="#5c5c5c" text-anchor="middle">C</text>
<circle cx="491.05" cy="566.80" r="2.42" fill="#e6d6d4" stroke="#6c6262" stroke-width="0.92"/>
<text x="491.05" y="568.13" font-size="3.7" font-weight="bold" fill="#5c5c5c" text-anchor="middle">C</text>
<circle cx="497.00" cy="504.90" r="2.42" fill="#f2f2f2" stroke="#6e6e6e" stroke-width="0.92"/>
<text x="497.00" y="506.23" font-size="3.7" font-weight="bold" fill="#5c5c5c" text-anchor="middle">A</text>
<circle cx="497.00" cy="510.56" r="2.42" fill="#f2f2f2" stroke="#6e6e6e" stroke-width="0.92"/>
<text x="497.00" y="511.89" font-size="3.7" font-weight="bold" fill="#5c5c5c" text-anchor="middle">G</text>
<circle cx="497.00" cy="516.21" r="2.42" fill="#f2f2f2" stroke="#6e6e6e" stroke-width="0.92"/>
<text x="497.00" y="517.54" font-size="3.7" font-weight="bold" fill="#5c5c5c" text-anchor="middle">C</text>
<circle cx="497.00" cy="521.87" r="2.42" fill="#f2f2f2" stroke="#6e6e6e" stroke-width="0.92"/>
<text x="497.00" y="523.20" font-size="3.7" font-weight="bold" fill="#5c5c5c" text-anchor="middle">G</text>
<circle cx="497.00" cy="527.52" r="2.42" fill="#f2f2f2" stroke="#6e6e6e" stroke-width="0.92"/>
<text x="497.00" y="528.85" font-size="3.7" font-weight="bold" fill="#5c5c5c" text-anchor="middle">C</text>
<circle cx="497.00" cy="533.18" r="2.42" fill="#f2f2f2" stroke="#6e6e6e" stroke-width="0.92"/>
<text x="497.00" y="534.51" font-size="3.7" font-weight="bold" fill="#5c5c5c" text-anchor="middle">C</text>
<circle cx="497.00" cy="538.83" r="2.42" fill="#f2f2f2" stroke="#6e6e6e" stroke-width="0.92"/>
<text x="497.00" y="540.17" font-size="3.7" font-weight="bold" fill="#5c5c5c" text-anchor="middle">C</text>
<circle cx="497.00" cy="544.49" r="2.42" fill="#f2f2f2" stroke="#6e6e6e" stroke-width="0.92"/>
<text x="497.00" y="545.82" font-size="3.7" font-weight="bold" fill="#5c5c5c" text-anchor="middle">G</text>
<circle cx="497.00" cy="550.14" r="2.42" fill="#f2f2f2" stroke="#6e6e6e" stroke-width="0.92"/>
<text x="497.00" y="551.48" font-size="3.7" font-weight="bold" fill="#5c5c5c" text-anchor="middle">T</text>
<circle cx="497.00" cy="555.80" r="2.42" fill="#f2f2f2" stroke="#6e6e6e" stroke-width="0.92"/>
<text x="497.00" y="557.13" font-size="3.7" font-weight="bold" fill="#5c5c5c" text-anchor="middle">G</text>
<circle cx="497.00" cy="566.80" r="2.42" fill="#cc7c7a" stroke="#7c4a4c" stroke-width="0.92"/>
<text x="497.00" y="568.13" font-size="3.7" font-weight="bold" fill="#5c5c5c" text-anchor="middle">C</text>
<circle cx="497.00" cy="572.41" r="2.42" fill="#cc1834" stroke="#801426" stroke-width="0.92"/>
<text x="497.00" y="573.74" font-size="3.7" font-weight="bold" fill="#ffffff" text-anchor="middle">C</text>
<circle cx="497.00" cy="578.02" r="2.42" fill="#cc7c7a" stroke="#7c4a4c" stroke-width="0.92"/>
<text x="497.00" y="579.35" font-size="3.7" font-weight="bold" fill="#5c5c5c" text-anchor="middle">A</text>
<circle cx="497.00" cy="583.63" r="2.42" fill="#cc7c7a" stroke="#7c4a4c" stroke-width="0.92"/>
<text x="497.00" y="584.97" font-size="3.7" font-weight="bold" fill="#5c5c5c" text-anchor="middle">G</text>
<circle cx="497.00" cy="589.24" r="2.42" fill="#cc7c7a" stroke="#7c4a4c" stroke-width="0.92"/>
<text x="497.00" y="590.58" font-size="3.7" font-weight="bold" fill="#5c5c5c" text-anchor="middle">C</text>
<circle cx="497.00" cy="594.86" r="2.42" fill="#cc7c7a" stroke="#7c4a4c" stroke-width="0.92"/>
<text x="497.00" y="596.19" font-size="3.7" font-weight="bold" fill="#5c5c5c" text-anchor="middle">C</text>
<circle cx="497.00" cy="600.47" r="2.42" fill="#e6d6d4" stroke="#6c6262" stroke-width="0.92"/>
<text x="497.00" y="601.80" font-size="3.7" font-weight="bold" fill="#5c5c5c" text-anchor="middle">C</text>
<circle cx="497.00" cy="606.08" r="2.42" fill="#dcaca6" stroke="#7a5c5a" stroke-width="0.92"/>
<text x="497.00" y="607.41" font-size="3.7" font-weight="bold" fill="#5c5c5c" text-anchor="middle">A</text>
<circle cx="497.00" cy="611.69" r="2.42" fill="#cc7c7a" stroke="#7c4a4c" stroke-width="0.92"/>
<text x="497.00" y="613.02" font-size="3.7" font-weight="bold" fill="#5c5c5c" text-anchor="middle">C</text>
<circle cx="497.00" cy="617.30" r="2.42" fill="#cc7c7a" stroke="#7c4a4c" stroke-width="0.92"/>
<text x="497.00" y="618.63" font-size="3.7" font-weight="bold" fill="#5c5c5c" text-anchor="middle">C</text>
<circle cx="502.80" cy="504.90" r="2.42" fill="#f2f2f2" stroke="#6e6e6e" stroke-width="0.92"/>
<text x="502.80" y="506.23" font-size="3.7" font-weight="bold" fill="#5c5c5c" text-anchor="middle">C</text>
<circle cx="502.80" cy="617.30" r="2.42" fill="#dcaca6" stroke="#7a5c5a" stroke-width="0.92"/>
<text x="502.80" y="618.63" font-size="3.7" font-weight="bold" fill="#5c5c5c" text-anchor="middle">T</text>
<circle cx="508.90" cy="504.90" r="2.42" fill="#dcaca6" stroke="#7a5c5a" stroke-width="0.92"/>
<text x="508.90" y="506.23" font-size="3.7" font-weight="bold" fill="#5c5c5c" text-anchor="middle">C</text>
<circle cx="508.90" cy="567.00" r="2.42" fill="#f2f2f2" stroke="#6e6e6e" stroke-width="0.92"/>
<text x="508.90" y="568.33" font-size="3.7" font-weight="bold" fill="#5c5c5c" text-anchor="middle">C</text>
<circle cx="508.90" cy="510.56" r="2.42" fill="#f2f2f2" stroke="#6e6e6e" stroke-width="0.92"/>
<text x="508.90" y="511.89" font-size="3.7" font-weight="bold" fill="#5c5c5c" text-anchor="middle">C</text>
<circle cx="508.90" cy="572.59" r="2.42" fill="#f2f2f2" stroke="#6e6e6e" stroke-width="0.92"/>
<text x="508.90" y="573.92" font-size="3.7" font-weight="bold" fill="#5c5c5c" text-anchor="middle">T</text>
<circle cx="508.90" cy="516.21" r="2.42" fill="#f2f2f2" stroke="#6e6e6e" stroke-width="0.92"/>
<text x="508.90" y="517.54" font-size="3.7" font-weight="bold" fill="#5c5c5c" text-anchor="middle">A</text>
<circle cx="508.90" cy="578.18" r="2.42" fill="#f2f2f2" stroke="#6e6e6e" stroke-width="0.92"/>
<text x="508.90" y="579.51" font-size="3.7" font-weight="bold" fill="#5c5c5c" text-anchor="middle">G</text>
<circle cx="508.90" cy="521.87" r="2.42" fill="#f2f2f2" stroke="#6e6e6e" stroke-width="0.92"/>
<text x="508.90" y="523.20" font-size="3.7" font-weight="bold" fill="#5c5c5c" text-anchor="middle">C</text>
<circle cx="508.90" cy="583.77" r="2.42" fill="#f2f2f2" stroke="#6e6e6e" stroke-width="0.92"/>
<text x="508.90" y="585.10" font-size="3.7" font-weight="bold" fill="#5c5c5c" text-anchor="middle">C</text>
<circle cx="508.90" cy="527.52" r="2.42" fill="#f2f2f2" stroke="#6e6e6e" stroke-width="0.92"/>
<text x="508.90" y="528.85" font-size="3.7" font-weight="bold" fill="#5c5c5c" text-anchor="middle">G</text>
<circle cx="508.90" cy="589.36" r="2.42" fill="#f2f2f2" stroke="#6e6e6e" stroke-width="0.92"/>
<text x="508.90" y="590.69" font-size="3.7" font-weight="bold" fill="#5c5c5c" text-anchor="middle">A</text>
<circle cx="508.90" cy="533.18" r="2.42" fill="#f2f2f2" stroke="#6e6e6e" stroke-width="0.92"/>
<text x="508.90" y="534.51" font-size="3.7" font-weight="bold" fill="#5c5c5c" text-anchor="middle">T</text>
<circle cx="508.90" cy="594.94" r="2.42" fill="#e6d6d4" stroke="#6c6262" stroke-width="0.92"/>
<text x="508.90" y="596.28" font-size="3.7" font-weight="bold" fill="#5c5c5c" text-anchor="middle">C</text>
<circle cx="508.90" cy="538.83" r="2.42" fill="#f2f2f2" stroke="#6e6e6e" stroke-width="0.92"/>
<text x="508.90" y="540.17" font-size="3.7" font-weight="bold" fill="#5c5c5c" text-anchor="middle">G</text>
<circle cx="508.90" cy="600.53" r="2.42" fill="#f2f2f2" stroke="#6e6e6e" stroke-width="0.92"/>
<text x="508.90" y="601.87" font-size="3.7" font-weight="bold" fill="#5c5c5c" text-anchor="middle">C</text>
<circle cx="508.90" cy="544.49" r="2.42" fill="#f2f2f2" stroke="#6e6e6e" stroke-width="0.92"/>
<text x="508.90" y="545.82" font-size="3.7" font-weight="bold" fill="#5c5c5c" text-anchor="middle">A</text>
<circle cx="508.90" cy="606.12" r="2.42" fill="#f2f2f2" stroke="#6e6e6e" stroke-width="0.92"/>
<text x="508.90" y="607.45" font-size="3.7" font-weight="bold" fill="#5c5c5c" text-anchor="middle">G</text>
<circle cx="508.90" cy="550.14" r="2.42" fill="#f2f2f2" stroke="#6e6e6e" stroke-width="0.92"/>
<text x="508.90" y="551.48" font-size="3.7" font-weight="bold" fill="#5c5c5c" text-anchor="middle">T</text>
<circle cx="508.90" cy="611.71" r="2.42" fill="#e6d6d4" stroke="#6c6262" stroke-width="0.92"/>
<text x="508.90" y="613.04" font-size="3.7" font-weight="bold" fill="#5c5c5c" text-anchor="middle">C</text>
<circle cx="508.90" cy="555.80" r="2.42" fill="#f2f2f2" stroke="#6e6e6e" stroke-width="0.92"/>
<text x="508.90" y="557.13" font-size="3.7" font-weight="bold" fill="#5c5c5c" text-anchor="middle">C</text>
<circle cx="508.90" cy="617.30" r="2.42" fill="#f2f2f2" stroke="#6e6e6e" stroke-width="0.92"/>
<text x="508.90" y="618.63" font-size="3.7" font-weight="bold" fill="#5c5c5c" text-anchor="middle">T</text>
<circle cx="508.90" cy="561.40" r="2.42" fill="#f2f2f2" stroke="#6e6e6e" stroke-width="0.92"/>
<text x="508.90" y="562.73" font-size="3.7" font-weight="bold" fill="#5c5c5c" text-anchor="middle">A</text>
<text x="327.7" y="557.5" font-size="10" fill="#333">3′-</text>
<text x="291.0" y="568.5" font-size="10" fill="#333">5′-</text>
<circle cx="342.10" cy="708.60" r="2.42" fill="#f2f2f2" stroke="#6e6e6e" stroke-width="0.92"/>
<text x="342.10" y="709.93" font-size="3.7" font-weight="bold" fill="#5c5c5c" text-anchor="middle">C</text>
<circle cx="348.06" cy="708.60" r="2.42" fill="#f2f2f2" stroke="#6e6e6e" stroke-width="0.92"/>
<text x="348.06" y="709.93" font-size="3.7" font-weight="bold" fill="#5c5c5c" text-anchor="middle">T</text>
<circle cx="354.02" cy="708.60" r="2.42" fill="#f2f2f2" stroke="#6e6e6e" stroke-width="0.92"/>
<text x="354.02" y="709.93" font-size="3.7" font-weight="bold" fill="#5c5c5c" text-anchor="middle">G</text>
<circle cx="359.97" cy="708.60" r="2.42" fill="#f2f2f2" stroke="#6e6e6e" stroke-width="0.92"/>
<text x="359.97" y="709.93" font-size="3.7" font-weight="bold" fill="#5c5c5c" text-anchor="middle">C</text>
<circle cx="365.93" cy="708.60" r="2.42" fill="#f2f2f2" stroke="#6e6e6e" stroke-width="0.92"/>
<text x="365.93" y="709.93" font-size="3.7" font-weight="bold" fill="#5c5c5c" text-anchor="middle">G</text>
<circle cx="371.89" cy="708.60" r="2.42" fill="#f2f2f2" stroke="#6e6e6e" stroke-width="0.92"/>
<text x="371.89" y="709.93" font-size="3.7" font-weight="bold" fill="#5c5c5c" text-anchor="middle">A</text>
<circle cx="377.85" cy="708.60" r="2.42" fill="#f2f2f2" stroke="#6e6e6e" stroke-width="0.92"/>
<text x="377.85" y="709.93" font-size="3.7" font-weight="bold" fill="#5c5c5c" text-anchor="middle">C</text>
<circle cx="383.80" cy="708.60" r="2.42" fill="#f2f2f2" stroke="#6e6e6e" stroke-width="0.92"/>
<text x="383.80" y="709.93" font-size="3.7" font-weight="bold" fill="#5c5c5c" text-anchor="middle">A</text>
<circle cx="389.76" cy="708.60" r="2.42" fill="#f2f2f2" stroke="#6e6e6e" stroke-width="0.92"/>
<text x="389.76" y="709.93" font-size="3.7" font-weight="bold" fill="#5c5c5c" text-anchor="middle">A</text>
<circle cx="395.72" cy="708.60" r="2.42" fill="#f2f2f2" stroke="#6e6e6e" stroke-width="0.92"/>
<text x="395.72" y="709.93" font-size="3.7" font-weight="bold" fill="#5c5c5c" text-anchor="middle">A</text>
<circle cx="401.68" cy="708.60" r="2.42" fill="#f2f2f2" stroke="#6e6e6e" stroke-width="0.92"/>
<text x="401.68" y="709.93" font-size="3.7" font-weight="bold" fill="#5c5c5c" text-anchor="middle">T</text>
<circle cx="407.63" cy="708.60" r="2.42" fill="#f2f2f2" stroke="#6e6e6e" stroke-width="0.92"/>
<text x="407.63" y="709.93" font-size="3.7" font-weight="bold" fill="#5c5c5c" text-anchor="middle">T</text>
<circle cx="413.59" cy="708.60" r="2.42" fill="#f2f2f2" stroke="#6e6e6e" stroke-width="0.92"/>
<text x="413.59" y="709.93" font-size="3.7" font-weight="bold" fill="#5c5c5c" text-anchor="middle">T</text>
<circle cx="419.55" cy="708.60" r="2.42" fill="#f2f2f2" stroke="#6e6e6e" stroke-width="0.92"/>
<text x="419.55" y="709.93" font-size="3.7" font-weight="bold" fill="#5c5c5c" text-anchor="middle">T</text>
<circle cx="425.51" cy="708.60" r="2.42" fill="#f2f2f2" stroke="#6e6e6e" stroke-width="0.92"/>
<text x="425.51" y="709.93" font-size="3.7" font-weight="bold" fill="#5c5c5c" text-anchor="middle">C</text>
<circle cx="431.47" cy="708.60" r="2.42" fill="#f2f2f2" stroke="#6e6e6e" stroke-width="0.92"/>
<text x="431.47" y="709.93" font-size="3.7" font-weight="bold" fill="#5c5c5c" text-anchor="middle">C</text>
<circle cx="437.42" cy="708.60" r="2.42" fill="#f2f2f2" stroke="#6e6e6e" stroke-width="0.92"/>
<text x="437.42" y="709.93" font-size="3.7" font-weight="bold" fill="#5c5c5c" text-anchor="middle">T</text>
<circle cx="443.38" cy="708.60" r="2.42" fill="#f2f2f2" stroke="#6e6e6e" stroke-width="0.92"/>
<text x="443.38" y="709.93" font-size="3.7" font-weight="bold" fill="#5c5c5c" text-anchor="middle">C</text>
<circle cx="449.34" cy="708.60" r="2.42" fill="#f2f2f2" stroke="#6e6e6e" stroke-width="0.92"/>
<text x="449.34" y="709.93" font-size="3.7" font-weight="bold" fill="#5c5c5c" text-anchor="middle">C</text>
<circle cx="455.30" cy="708.60" r="2.42" fill="#f2f2f2" stroke="#6e6e6e" stroke-width="0.92"/>
<text x="455.30" y="709.93" font-size="3.7" font-weight="bold" fill="#5c5c5c" text-anchor="middle">T</text>
<circle cx="461.25" cy="708.60" r="2.42" fill="#f2f2f2" stroke="#6e6e6e" stroke-width="0.92"/>
<text x="461.25" y="709.93" font-size="3.7" font-weight="bold" fill="#5c5c5c" text-anchor="middle">T</text>
<circle cx="467.21" cy="708.60" r="2.42" fill="#f2f2f2" stroke="#6e6e6e" stroke-width="0.92"/>
<text x="467.21" y="709.93" font-size="3.7" font-weight="bold" fill="#5c5c5c" text-anchor="middle">G</text>
<circle cx="473.17" cy="708.60" r="2.42" fill="#f2f2f2" stroke="#6e6e6e" stroke-width="0.92"/>
<text x="473.17" y="709.93" font-size="3.7" font-weight="bold" fill="#5c5c5c" text-anchor="middle">T</text>
<circle cx="479.13" cy="708.60" r="2.42" fill="#f2f2f2" stroke="#6e6e6e" stroke-width="0.92"/>
<text x="479.13" y="709.93" font-size="3.7" font-weight="bold" fill="#5c5c5c" text-anchor="middle">G</text>
<circle cx="485.08" cy="708.60" r="2.42" fill="#f2f2f2" stroke="#6e6e6e" stroke-width="0.92"/>
<text x="485.08" y="709.93" font-size="3.7" font-weight="bold" fill="#5c5c5c" text-anchor="middle">C</text>
<circle cx="491.04" cy="708.60" r="2.42" fill="#f2f2f2" stroke="#6e6e6e" stroke-width="0.92"/>
<text x="491.04" y="709.93" font-size="3.7" font-weight="bold" fill="#5c5c5c" text-anchor="middle">G</text>
<circle cx="306.60" cy="719.80" r="2.42" fill="#f2f2f2" stroke="#6e6e6e" stroke-width="0.92"/>
<text x="306.60" y="721.13" font-size="3.7" font-weight="bold" fill="#5c5c5c" text-anchor="middle">A</text>
<circle cx="312.55" cy="719.80" r="2.42" fill="#f2f2f2" stroke="#6e6e6e" stroke-width="0.92"/>
<text x="312.55" y="721.13" font-size="3.7" font-weight="bold" fill="#5c5c5c" text-anchor="middle">G</text>
<circle cx="318.50" cy="719.80" r="2.42" fill="#f2f2f2" stroke="#6e6e6e" stroke-width="0.92"/>
<text x="318.50" y="721.13" font-size="3.7" font-weight="bold" fill="#5c5c5c" text-anchor="middle">A</text>
<circle cx="324.45" cy="719.80" r="2.42" fill="#f2f2f2" stroke="#6e6e6e" stroke-width="0.92"/>
<text x="324.45" y="721.13" font-size="3.7" font-weight="bold" fill="#5c5c5c" text-anchor="middle">C</text>
<circle cx="330.40" cy="719.80" r="2.42" fill="#f2f2f2" stroke="#6e6e6e" stroke-width="0.92"/>
<text x="330.40" y="721.13" font-size="3.7" font-weight="bold" fill="#5c5c5c" text-anchor="middle">C</text>
<circle cx="336.35" cy="719.80" r="2.42" fill="#f2f2f2" stroke="#6e6e6e" stroke-width="0.92"/>
<text x="336.35" y="721.13" font-size="3.7" font-weight="bold" fill="#5c5c5c" text-anchor="middle">C</text>
<circle cx="342.30" cy="719.80" r="2.42" fill="#b4485a" stroke="#702a3a" stroke-width="0.92"/>
<text x="342.30" y="721.13" font-size="3.7" font-weight="bold" fill="#ffffff" text-anchor="middle">G</text>
<circle cx="348.25" cy="719.80" r="2.42" fill="#e6d6d4" stroke="#6c6262" stroke-width="0.92"/>
<text x="348.25" y="721.13" font-size="3.7" font-weight="bold" fill="#5c5c5c" text-anchor="middle">A</text>
<circle cx="354.20" cy="719.80" r="2.42" fill="#dcaca6" stroke="#7a5c5a" stroke-width="0.92"/>
<text x="354.20" y="721.13" font-size="3.7" font-weight="bold" fill="#5c5c5c" text-anchor="middle">C</text>
<circle cx="360.15" cy="719.80" r="2.42" fill="#cc7c7a" stroke="#7c4a4c" stroke-width="0.92"/>
<text x="360.15" y="721.13" font-size="3.7" font-weight="bold" fill="#5c5c5c" text-anchor="middle">C</text>
<circle cx="366.10" cy="719.80" r="2.42" fill="#dcaca6" stroke="#7a5c5a" stroke-width="0.92"/>
<text x="366.10" y="721.13" font-size="3.7" font-weight="bold" fill="#5c5c5c" text-anchor="middle">C</text>
<circle cx="372.05" cy="719.80" r="2.42" fill="#dcaca6" stroke="#7a5c5a" stroke-width="0.92"/>
<text x="372.05" y="721.13" font-size="3.7" font-weight="bold" fill="#5c5c5c" text-anchor="middle">T</text>
<circle cx="378.00" cy="719.80" r="2.42" fill="#dcaca6" stroke="#7a5c5a" stroke-width="0.92"/>
<text x="378.00" y="721.13" font-size="3.7" font-weight="bold" fill="#5c5c5c" text-anchor="middle">C</text>
<circle cx="383.95" cy="719.80" r="2.42" fill="#e6d6d4" stroke="#6c6262" stroke-width="0.92"/>
<text x="383.95" y="721.13" font-size="3.7" font-weight="bold" fill="#5c5c5c" text-anchor="middle">A</text>
<circle cx="389.90" cy="719.80" r="2.42" fill="#dcaca6" stroke="#7a5c5a" stroke-width="0.92"/>
<text x="389.90" y="721.13" font-size="3.7" font-weight="bold" fill="#5c5c5c" text-anchor="middle">T</text>
<circle cx="395.85" cy="719.80" r="2.42" fill="#e6d6d4" stroke="#6c6262" stroke-width="0.92"/>
<text x="395.85" y="721.13" font-size="3.7" font-weight="bold" fill="#5c5c5c" text-anchor="middle">G</text>
<circle cx="401.80" cy="719.80" r="2.42" fill="#cc7c7a" stroke="#7c4a4c" stroke-width="0.92"/>
<text x="401.80" y="721.13" font-size="3.7" font-weight="bold" fill="#5c5c5c" text-anchor="middle">G</text>
<circle cx="407.75" cy="719.80" r="2.42" fill="#dcaca6" stroke="#7a5c5a" stroke-width="0.92"/>
<text x="407.75" y="721.13" font-size="3.7" font-weight="bold" fill="#5c5c5c" text-anchor="middle">C</text>
<circle cx="413.70" cy="719.80" r="2.42" fill="#e6d6d4" stroke="#6c6262" stroke-width="0.92"/>
<text x="413.70" y="721.13" font-size="3.7" font-weight="bold" fill="#5c5c5c" text-anchor="middle">T</text>
<circle cx="419.65" cy="719.80" r="2.42" fill="#cc7c7a" stroke="#7c4a4c" stroke-width="0.92"/>
<text x="419.65" y="721.13" font-size="3.7" font-weight="bold" fill="#5c5c5c" text-anchor="middle">A</text>
<circle cx="425.60" cy="719.80" r="2.42" fill="#dcaca6" stroke="#7a5c5a" stroke-width="0.92"/>
<text x="425.60" y="721.13" font-size="3.7" font-weight="bold" fill="#5c5c5c" text-anchor="middle">C</text>
<circle cx="431.55" cy="719.80" r="2.42" fill="#dcaca6" stroke="#7a5c5a" stroke-width="0.92"/>
<text x="431.55" y="721.13" font-size="3.7" font-weight="bold" fill="#5c5c5c" text-anchor="middle">G</text>
<circle cx="437.50" cy="719.80" r="2.42" fill="#e6d6d4" stroke="#6c6262" stroke-width="0.92"/>
<text x="437.50" y="721.13" font-size="3.7" font-weight="bold" fill="#5c5c5c" text-anchor="middle">G</text>
<circle cx="443.45" cy="719.80" r="2.42" fill="#cc7c7a" stroke="#7c4a4c" stroke-width="0.92"/>
<text x="443.45" y="721.13" font-size="3.7" font-weight="bold" fill="#5c5c5c" text-anchor="middle">G</text>
<circle cx="449.40" cy="719.80" r="2.42" fill="#e6d6d4" stroke="#6c6262" stroke-width="0.92"/>
<text x="449.40" y="721.13" font-size="3.7" font-weight="bold" fill="#5c5c5c" text-anchor="middle">T</text>
<circle cx="455.35" cy="719.80" r="2.42" fill="#e6d6d4" stroke="#6c6262" stroke-width="0.92"/>
<text x="455.35" y="721.13" font-size="3.7" font-weight="bold" fill="#5c5c5c" text-anchor="middle">A</text>
<circle cx="461.30" cy="719.80" r="2.42" fill="#e6d6d4" stroke="#6c6262" stroke-width="0.92"/>
<text x="461.30" y="721.13" font-size="3.7" font-weight="bold" fill="#5c5c5c" text-anchor="middle">C</text>
<circle cx="467.25" cy="719.80" r="2.42" fill="#cc7c7a" stroke="#7c4a4c" stroke-width="0.92"/>
<text x="467.25" y="721.13" font-size="3.7" font-weight="bold" fill="#5c5c5c" text-anchor="middle">T</text>
<circle cx="473.20" cy="719.80" r="2.42" fill="#f2f2f2" stroke="#6e6e6e" stroke-width="0.92"/>
<text x="473.20" y="721.13" font-size="3.7" font-weight="bold" fill="#5c5c5c" text-anchor="middle">G</text>
<circle cx="479.15" cy="719.80" r="2.42" fill="#cc7c7a" stroke="#7c4a4c" stroke-width="0.92"/>
<text x="479.15" y="721.13" font-size="3.7" font-weight="bold" fill="#5c5c5c" text-anchor="middle">G</text>
<circle cx="485.10" cy="719.80" r="2.42" fill="#cc7c7a" stroke="#7c4a4c" stroke-width="0.92"/>
<text x="485.10" y="721.13" font-size="3.7" font-weight="bold" fill="#5c5c5c" text-anchor="middle">A</text>
<circle cx="491.05" cy="719.80" r="2.42" fill="#cc7c7a" stroke="#7c4a4c" stroke-width="0.92"/>
<text x="491.05" y="721.13" font-size="3.7" font-weight="bold" fill="#5c5c5c" text-anchor="middle">G</text>
<circle cx="497.00" cy="657.10" r="2.42" fill="#f2f2f2" stroke="#6e6e6e" stroke-width="0.92"/>
<text x="497.00" y="658.43" font-size="3.7" font-weight="bold" fill="#5c5c5c" text-anchor="middle">C</text>
<circle cx="497.00" cy="662.82" r="2.42" fill="#f2f2f2" stroke="#6e6e6e" stroke-width="0.92"/>
<text x="497.00" y="664.15" font-size="3.7" font-weight="bold" fill="#5c5c5c" text-anchor="middle">C</text>
<circle cx="497.00" cy="668.54" r="2.42" fill="#f2f2f2" stroke="#6e6e6e" stroke-width="0.92"/>
<text x="497.00" y="669.88" font-size="3.7" font-weight="bold" fill="#5c5c5c" text-anchor="middle">T</text>
<circle cx="497.00" cy="674.27" r="2.42" fill="#f2f2f2" stroke="#6e6e6e" stroke-width="0.92"/>
<text x="497.00" y="675.60" font-size="3.7" font-weight="bold" fill="#5c5c5c" text-anchor="middle">C</text>
<circle cx="497.00" cy="679.99" r="2.42" fill="#f2f2f2" stroke="#6e6e6e" stroke-width="0.92"/>
<text x="497.00" y="681.32" font-size="3.7" font-weight="bold" fill="#5c5c5c" text-anchor="middle">T</text>
<circle cx="497.00" cy="685.71" r="2.42" fill="#f2f2f2" stroke="#6e6e6e" stroke-width="0.92"/>
<text x="497.00" y="687.04" font-size="3.7" font-weight="bold" fill="#5c5c5c" text-anchor="middle">T</text>
<circle cx="497.00" cy="691.43" r="2.42" fill="#f2f2f2" stroke="#6e6e6e" stroke-width="0.92"/>
<text x="497.00" y="692.77" font-size="3.7" font-weight="bold" fill="#5c5c5c" text-anchor="middle">A</text>
<circle cx="497.00" cy="697.16" r="2.42" fill="#f2f2f2" stroke="#6e6e6e" stroke-width="0.92"/>
<text x="497.00" y="698.49" font-size="3.7" font-weight="bold" fill="#5c5c5c" text-anchor="middle">C</text>
<circle cx="497.00" cy="702.88" r="2.42" fill="#f2f2f2" stroke="#6e6e6e" stroke-width="0.92"/>
<text x="497.00" y="704.21" font-size="3.7" font-weight="bold" fill="#5c5c5c" text-anchor="middle">C</text>
<circle cx="497.00" cy="708.60" r="2.42" fill="#f2f2f2" stroke="#6e6e6e" stroke-width="0.92"/>
<text x="497.00" y="709.93" font-size="3.7" font-weight="bold" fill="#5c5c5c" text-anchor="middle">C</text>
<circle cx="497.00" cy="719.80" r="2.42" fill="#b4485a" stroke="#702a3a" stroke-width="0.92"/>
<text x="497.00" y="721.13" font-size="3.7" font-weight="bold" fill="#ffffff" text-anchor="middle">G</text>
<circle cx="497.00" cy="725.53" r="2.42" fill="#cc1834" stroke="#801426" stroke-width="0.92"/>
<text x="497.00" y="726.87" font-size="3.7" font-weight="bold" fill="#ffffff" text-anchor="middle">C</text>
<circle cx="497.00" cy="731.27" r="2.42" fill="#cc7c7a" stroke="#7c4a4c" stroke-width="0.92"/>
<text x="497.00" y="732.60" font-size="3.7" font-weight="bold" fill="#5c5c5c" text-anchor="middle">A</text>
<circle cx="497.00" cy="737.00" r="2.42" fill="#cc7c7a" stroke="#7c4a4c" stroke-width="0.92"/>
<text x="497.00" y="738.33" font-size="3.7" font-weight="bold" fill="#5c5c5c" text-anchor="middle">C</text>
<circle cx="497.00" cy="742.73" r="2.42" fill="#cc7c7a" stroke="#7c4a4c" stroke-width="0.92"/>
<text x="497.00" y="744.07" font-size="3.7" font-weight="bold" fill="#5c5c5c" text-anchor="middle">A</text>
<circle cx="497.00" cy="748.47" r="2.42" fill="#cc7c7a" stroke="#7c4a4c" stroke-width="0.92"/>
<text x="497.00" y="749.80" font-size="3.7" font-weight="bold" fill="#5c5c5c" text-anchor="middle">C</text>
<circle cx="497.00" cy="754.20" r="2.42" fill="#cc7c7a" stroke="#7c4a4c" stroke-width="0.92"/>
<text x="497.00" y="755.53" font-size="3.7" font-weight="bold" fill="#5c5c5c" text-anchor="middle">C</text>
<circle cx="497.00" cy="759.93" r="2.42" fill="#dcaca6" stroke="#7a5c5a" stroke-width="0.92"/>
<text x="497.00" y="761.27" font-size="3.7" font-weight="bold" fill="#5c5c5c" text-anchor="middle">T</text>
<circle cx="497.00" cy="765.67" r="2.42" fill="#cc7c7a" stroke="#7c4a4c" stroke-width="0.92"/>
<text x="497.00" y="767.00" font-size="3.7" font-weight="bold" fill="#5c5c5c" text-anchor="middle">C</text>
<circle cx="497.00" cy="771.40" r="2.42" fill="#b4485a" stroke="#702a3a" stroke-width="0.92"/>
<text x="497.00" y="772.73" font-size="3.7" font-weight="bold" fill="#ffffff" text-anchor="middle">G</text>
<circle cx="502.80" cy="657.10" r="2.42" fill="#f2f2f2" stroke="#6e6e6e" stroke-width="0.92"/>
<text x="502.80" y="658.43" font-size="3.7" font-weight="bold" fill="#5c5c5c" text-anchor="middle">C</text>
<circle cx="502.80" cy="771.40" r="2.42" fill="#dcaca6" stroke="#7a5c5a" stroke-width="0.92"/>
<text x="502.80" y="772.73" font-size="3.7" font-weight="bold" fill="#5c5c5c" text-anchor="middle">G</text>
<circle cx="508.90" cy="657.10" r="2.42" fill="#f2f2f2" stroke="#6e6e6e" stroke-width="0.92"/>
<text x="508.90" y="658.43" font-size="3.7" font-weight="bold" fill="#5c5c5c" text-anchor="middle">T</text>
<circle cx="508.90" cy="720.00" r="2.42" fill="#f2f2f2" stroke="#6e6e6e" stroke-width="0.92"/>
<text x="508.90" y="721.33" font-size="3.7" font-weight="bold" fill="#5c5c5c" text-anchor="middle">G</text>
<circle cx="508.90" cy="662.79" r="2.42" fill="#f2f2f2" stroke="#6e6e6e" stroke-width="0.92"/>
<text x="508.90" y="664.12" font-size="3.7" font-weight="bold" fill="#5c5c5c" text-anchor="middle">C</text>
<circle cx="508.90" cy="725.71" r="2.42" fill="#f2f2f2" stroke="#6e6e6e" stroke-width="0.92"/>
<text x="508.90" y="727.04" font-size="3.7" font-weight="bold" fill="#5c5c5c" text-anchor="middle">G</text>
<circle cx="508.90" cy="668.48" r="2.42" fill="#f2f2f2" stroke="#6e6e6e" stroke-width="0.92"/>
<text x="508.90" y="669.81" font-size="3.7" font-weight="bold" fill="#5c5c5c" text-anchor="middle">A</text>
<circle cx="508.90" cy="731.42" r="2.42" fill="#f2f2f2" stroke="#6e6e6e" stroke-width="0.92"/>
<text x="508.90" y="732.75" font-size="3.7" font-weight="bold" fill="#5c5c5c" text-anchor="middle">C</text>
<circle cx="508.90" cy="674.17" r="2.42" fill="#f2f2f2" stroke="#6e6e6e" stroke-width="0.92"/>
<text x="508.90" y="675.50" font-size="3.7" font-weight="bold" fill="#5c5c5c" text-anchor="middle">G</text>
<circle cx="508.90" cy="737.13" r="2.42" fill="#f2f2f2" stroke="#6e6e6e" stroke-width="0.92"/>
<text x="508.90" y="738.47" font-size="3.7" font-weight="bold" fill="#5c5c5c" text-anchor="middle">A</text>
<circle cx="508.90" cy="679.86" r="2.42" fill="#cc7c7a" stroke="#7c4a4c" stroke-width="0.92"/>
<text x="508.90" y="681.19" font-size="3.7" font-weight="bold" fill="#5c5c5c" text-anchor="middle">T</text>
<circle cx="508.90" cy="742.84" r="2.42" fill="#f2f2f2" stroke="#6e6e6e" stroke-width="0.92"/>
<text x="508.90" y="744.18" font-size="3.7" font-weight="bold" fill="#5c5c5c" text-anchor="middle">C</text>
<circle cx="508.90" cy="685.54" r="2.42" fill="#f2f2f2" stroke="#6e6e6e" stroke-width="0.92"/>
<text x="508.90" y="686.88" font-size="3.7" font-weight="bold" fill="#5c5c5c" text-anchor="middle">A</text>
<circle cx="508.90" cy="748.56" r="2.42" fill="#f2f2f2" stroke="#6e6e6e" stroke-width="0.92"/>
<text x="508.90" y="749.89" font-size="3.7" font-weight="bold" fill="#5c5c5c" text-anchor="middle">A</text>
<circle cx="508.90" cy="691.23" r="2.42" fill="#f2f2f2" stroke="#6e6e6e" stroke-width="0.92"/>
<text x="508.90" y="692.57" font-size="3.7" font-weight="bold" fill="#5c5c5c" text-anchor="middle">G</text>
<circle cx="508.90" cy="754.27" r="2.42" fill="#f2f2f2" stroke="#6e6e6e" stroke-width="0.92"/>
<text x="508.90" y="755.60" font-size="3.7" font-weight="bold" fill="#5c5c5c" text-anchor="middle">G</text>
<circle cx="508.90" cy="696.92" r="2.42" fill="#f2f2f2" stroke="#6e6e6e" stroke-width="0.92"/>
<text x="508.90" y="698.25" font-size="3.7" font-weight="bold" fill="#5c5c5c" text-anchor="middle">C</text>
<circle cx="508.90" cy="759.98" r="2.42" fill="#f2f2f2" stroke="#6e6e6e" stroke-width="0.92"/>
<text x="508.90" y="761.31" font-size="3.7" font-weight="bold" fill="#5c5c5c" text-anchor="middle">C</text>
<circle cx="508.90" cy="702.61" r="2.42" fill="#f2f2f2" stroke="#6e6e6e" stroke-width="0.92"/>
<text x="508.90" y="703.94" font-size="3.7" font-weight="bold" fill="#5c5c5c" text-anchor="middle">T</text>
<circle cx="508.90" cy="765.69" r="2.42" fill="#cc7c7a" stroke="#7c4a4c" stroke-width="0.92"/>
<text x="508.90" y="767.02" font-size="3.7" font-weight="bold" fill="#5c5c5c" text-anchor="middle">A</text>
<circle cx="508.90" cy="708.30" r="2.42" fill="#f2f2f2" stroke="#6e6e6e" stroke-width="0.92"/>
<text x="508.90" y="709.63" font-size="3.7" font-weight="bold" fill="#5c5c5c" text-anchor="middle">A</text>
<circle cx="508.90" cy="771.40" r="2.42" fill="#f2f2f2" stroke="#6e6e6e" stroke-width="0.92"/>
<text x="508.90" y="772.73" font-size="3.7" font-weight="bold" fill="#5c5c5c" text-anchor="middle">T</text>
<circle cx="508.90" cy="714.20" r="2.42" fill="#f2f2f2" stroke="#6e6e6e" stroke-width="0.92"/>
<text x="508.90" y="715.53" font-size="3.7" font-weight="bold" fill="#5c5c5c" text-anchor="middle">A</text>
<text x="327.7" y="711.6" font-size="10" fill="#333">3′-</text>
<text x="291.0" y="722.1" font-size="10" fill="#333">5′-</text>
<rect x="359.5" y="116.4" width="112.3" height="16.2" fill="url(#grad)"/>
<line x1="357.7" y1="113.9" x2="471.5" y2="113.9" stroke="#333" stroke-width="1"/>
<line x1="357.7" y1="110.7" x2="357.7" y2="114.4" stroke="#333" stroke-width="1"/>
<line x1="414.5" y1="110.7" x2="414.5" y2="114.4" stroke="#333" stroke-width="1"/>
<line x1="471.5" y1="110.7" x2="471.5" y2="114.4" stroke="#333" stroke-width="1"/>
<text x="357.7" y="104.8" font-size="10" fill="#333" text-anchor="middle">0</text>
<text x="414.5" y="104.8" font-size="10" fill="#333" text-anchor="middle">15</text>
<text x="471.5" y="104.8" font-size="10" fill="#333" text-anchor="middle">30</text>
<rect x="359.5" y="279.6" width="112.3" height="17.5" fill="url(#grad)"/>
<line x1="357.7" y1="276.6" x2="471.3" y2="276.6" stroke="#333" stroke-width="1"/>
<line x1="357.7" y1="273.40000000000003" x2="357.7" y2="277.1" stroke="#333" stroke-width="1"/>
<line x1="414.5" y1="273.40000000000003" x2="414.5" y2="277.1" stroke="#333" stroke-width="1"/>
<line x1="471.3" y1="273.40000000000003" x2="471.3" y2="277.1" stroke="#333" stroke-width="1"/>
<text x="357.7" y="267.5" font-size="10" fill="#333" text-anchor="middle">0</text>
<text x="414.5" y="267.5" font-size="10" fill="#333" text-anchor="middle">13</text>
<text x="471.3" y="267.5" font-size="10" fill="#333" text-anchor="middle">27</text>
<rect x="361" y="447.2" width="110.8" height="15.6" fill="url(#grad)"/>
<line x1="357.7" y1="444.5" x2="471.3" y2="444.5" stroke="#333" stroke-width="1"/>
<line x1="357.7" y1="441.3" x2="357.7" y2="445.0" stroke="#333" stroke-width="1"/>
<line x1="414.5" y1="441.3" x2="414.5" y2="445.0" stroke="#333" stroke-width="1"/>
<line x1="471.3" y1="441.3" x2="471.3" y2="445.0" stroke="#333" stroke-width="1"/>
<text x="357.7" y="435.6" font-size="10" fill="#333" text-anchor="middle">0</text>
<text x="414.5" y="435.6" font-size="10" fill="#333" text-anchor="middle">7</text>
<text x="471.3" y="435.6" font-size="10" fill="#333" text-anchor="middle">14</text>
<rect x="362.5" y="605.4" width="109.3" height="17.0" fill="url(#grad)"/>
<line x1="357.7" y1="602.6" x2="468.3" y2="602.6" stroke="#333" stroke-width="1"/>
<line x1="357.7" y1="599.4" x2="357.7" y2="603.1" stroke="#333" stroke-width="1"/>
<line x1="412.9" y1="599.4" x2="412.9" y2="603.1" stroke="#333" stroke-width="1"/>
<line x1="468.3" y1="599.4" x2="468.3" y2="603.1" stroke="#333" stroke-width="1"/>
<text x="357.7" y="593.5" font-size="10" fill="#333" text-anchor="middle">0</text>
<text x="412.9" y="593.5" font-size="10" fill="#333" text-anchor="middle">3</text>
<text x="468.3" y="593.5" font-size="10" fill="#333" text-anchor="middle">6</text>
<rect x="360" y="758.5" width="111.8" height="17.0" fill="url(#grad)"/>
<line x1="358.5" y1="755.8" x2="470.2" y2="755.8" stroke="#333" stroke-width="1"/>
<line x1="358.5" y1="752.5999999999999" x2="358.5" y2="756.3" stroke="#333" stroke-width="1"/>
<line x1="377.3" y1="752.5999999999999" x2="377.3" y2="756.3" stroke="#333" stroke-width="1"/>
<line x1="395.6" y1="752.5999999999999" x2="395.6" y2="756.3" stroke="#333" stroke-width="1"/>
<line x1="414.5" y1="752.5999999999999" x2="414.5" y2="756.3" stroke="#333" stroke-width="1"/>
<line x1="433" y1="752.5999999999999" x2="433" y2="756.3" stroke="#333" stroke-width="1"/>
<line x1="451.9" y1="752.5999999999999" x2="451.9" y2="756.3" stroke="#333" stroke-width="1"/>
<line x1="470.2" y1="752.5999999999999" x2="470.2" y2="756.3" stroke="#333" stroke-width="1"/>
<text x="358.5" y="746.7" font-size="10" fill="#333" text-anchor="middle">0</text>
<text x="377.3" y="746.7" font-size="10" fill="#333" text-anchor="middle">2</text>
<text x="395.6" y="746.7" font-size="10" fill="#333" text-anchor="middle">4</text>
<text x="414.5" y="746.7" font-size="10" fill="#333" text-anchor="middle">6</text>
<text x="433" y="746.7" font-size="10" fill="#333" text-anchor="middle">8</text>
<text x="451.9" y="746.7" font-size="10" fill="#333" text-anchor="middle">10</text>
<text x="470.2" y="746.7" font-size="10" fill="#333" text-anchor="middle">12</text>
<rect x="0.5" y="0.5" width="519" height="827" fill="none" stroke="#3a3a3a" stroke-width="1"/>
</svg></body></html>
